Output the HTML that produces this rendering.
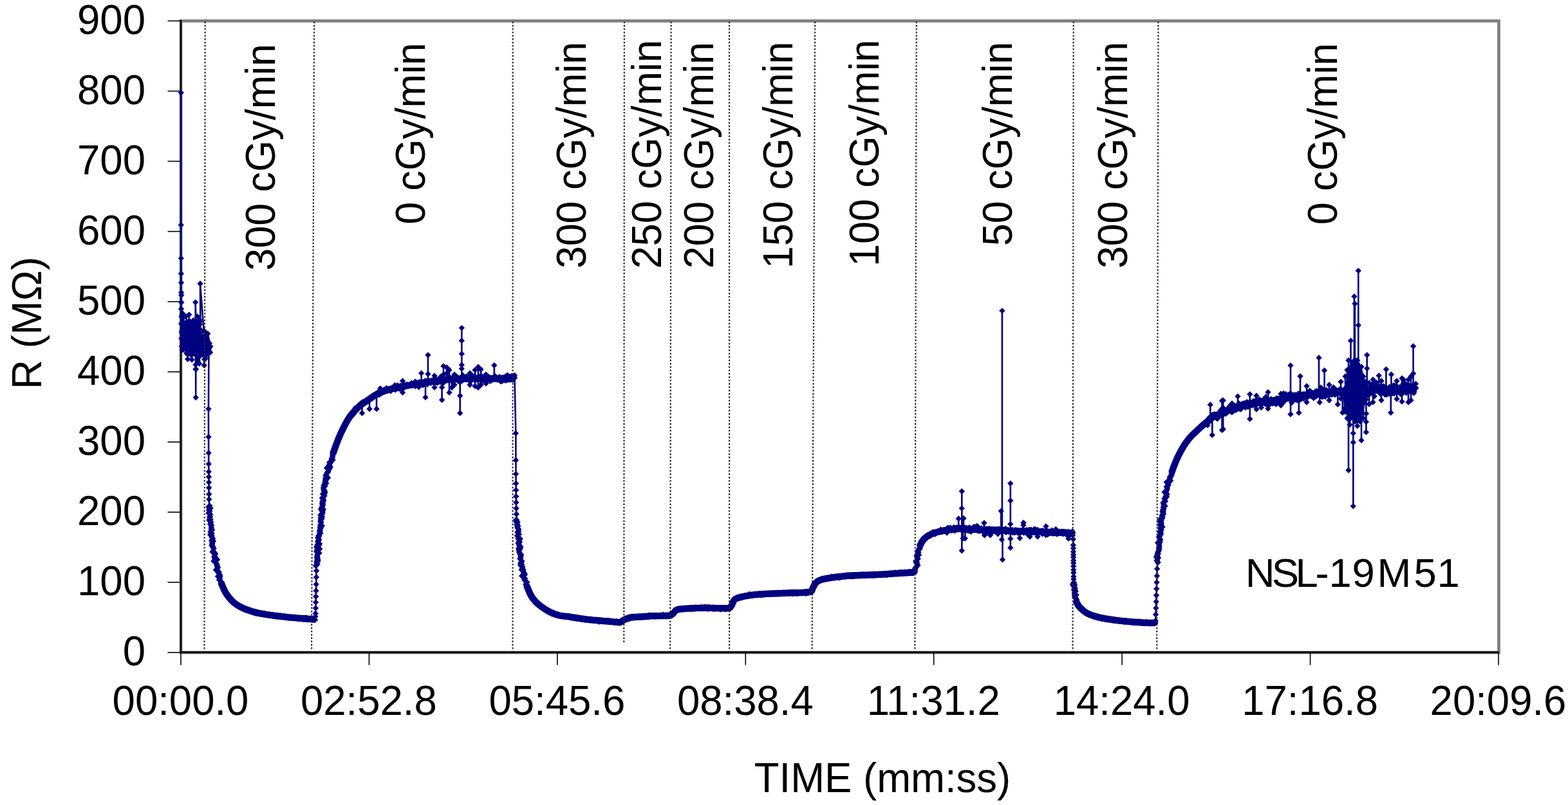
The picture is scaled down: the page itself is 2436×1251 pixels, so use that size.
<!DOCTYPE html><html><head><meta charset="utf-8"><title>R vs TIME</title>
<style>html,body{margin:0;padding:0;background:#fff;overflow:hidden;}svg{display:block;}text{font-family:"Liberation Sans", Arial, sans-serif;fill:#000;}</style></head><body>
<svg width="2436" height="1251" viewBox="0 0 2436 1251">
<defs><marker id="d" viewBox="-6 -6 12 12" markerWidth="12" markerHeight="12" markerUnits="userSpaceOnUse" refX="0" refY="0" overflow="visible"><path d="M0,-4.7L4.7,0L0,4.7L-4.7,0Z" fill="#000080"/></marker></defs>
<rect width="2436" height="1251" fill="#fff"/>
<rect x="281" y="32.5" width="2047.5" height="981.5" fill="none" stroke="#808080" stroke-width="4.8"/>
<g stroke="#000" fill="none">
<line x1="281" y1="31" x2="281" y2="1014" stroke-width="2.4"/>
<line x1="279.8" y1="1013.8" x2="2329" y2="1013.8" stroke-width="3"/>
<line x1="260.5" y1="1014.00" x2="281" y2="1014.00" stroke-width="1.6"/>
<line x1="260.5" y1="904.94" x2="281" y2="904.94" stroke-width="1.6"/>
<line x1="260.5" y1="795.89" x2="281" y2="795.89" stroke-width="1.6"/>
<line x1="260.5" y1="686.83" x2="281" y2="686.83" stroke-width="1.6"/>
<line x1="260.5" y1="577.78" x2="281" y2="577.78" stroke-width="1.6"/>
<line x1="260.5" y1="468.72" x2="281" y2="468.72" stroke-width="1.6"/>
<line x1="260.5" y1="359.67" x2="281" y2="359.67" stroke-width="1.6"/>
<line x1="260.5" y1="250.61" x2="281" y2="250.61" stroke-width="1.6"/>
<line x1="260.5" y1="141.56" x2="281" y2="141.56" stroke-width="1.6"/>
<line x1="260.5" y1="32.50" x2="281" y2="32.50" stroke-width="1.6"/>
<line x1="281.00" y1="1014" x2="281.00" y2="1033.5" stroke-width="1.6"/>
<line x1="573.43" y1="1014" x2="573.43" y2="1033.5" stroke-width="1.6"/>
<line x1="865.86" y1="1014" x2="865.86" y2="1033.5" stroke-width="1.6"/>
<line x1="1158.29" y1="1014" x2="1158.29" y2="1033.5" stroke-width="1.6"/>
<line x1="1450.71" y1="1014" x2="1450.71" y2="1033.5" stroke-width="1.6"/>
<line x1="1743.14" y1="1014" x2="1743.14" y2="1033.5" stroke-width="1.6"/>
<line x1="2035.57" y1="1014" x2="2035.57" y2="1033.5" stroke-width="1.6"/>
<line x1="2328.00" y1="1014" x2="2328.00" y2="1033.5" stroke-width="1.6"/>
</g>
<polyline points="343.3,904.8 344,906.7 344.8,908.7 345.6,910.6 346.4,912.6 347.3,914.5 348.2,916.5 349.2,918.4 350.2,920.4 351.3,922.3 352.6,924.2 353.9,926.1 355.4,928 357,929.9 358.7,931.9 360.5,933.8 362.5,935.7 364.5,937.4 366.5,938.9 368.5,940.2 370.5,941.4 372.5,942.5 374.5,943.6 376.5,944.5 378.5,945.4 380.5,946.3 382.5,947.1 384.5,947.8 386.5,948.5 388.5,949.2 390.5,949.9 392.5,950.5 394.5,951.1 396.5,951.6 398.5,952.1 400.5,952.6 402.5,953 404.5,953.4 406.5,953.7 408.5,954.1 410.5,954.4 412.5,954.8 414.5,955.1 416.5,955.4 418.5,955.7 420.5,956 422.5,956.2 424.5,956.5 426.5,956.8 428.5,957 430.5,957.3 432.5,957.5 434.5,957.7 436.5,958 438.5,958.2 440.5,958.4 442.5,958.6 444.5,958.9 446.5,959.1 448.5,959.3 450.5,959.5 452.5,959.7 454.5,959.8 456.5,960 458.5,960.2 460.5,960.4 462.5,960.6 464.5,960.7 466.5,960.9 468.5,961.1 470.5,961.2 472.5,961.4 474.5,961.5 476.5,961.7 478.5,961.8 480.5,961.9 482.5,962.1 484.5,962.2 486.5,962.3 488.5,962.4 489.5,962.5" fill="none" stroke="#000080" stroke-width="10.4" stroke-linejoin="round" stroke-linecap="butt"/>
<polyline points="517,706 517.7,704 518.4,702 519.1,700 519.8,698 520.5,696 521.2,694 521.9,692 522.7,690.1 523.4,688.1 524.2,686.1 525,684.1 525.7,682.1 526.6,680.2 527.4,678.2 528.2,676.2 529.1,674.2 530,672.3 531,670.3 531.9,668.3 532.9,666.3 533.9,664.3 534.9,662.4 535.9,660.4 536.9,658.4 538,656.4 539.1,654.5 540.3,652.5 541.5,650.6 542.7,648.6 544.1,646.7 545.6,644.8 547.1,642.8 548.8,640.9 550.5,639 552.4,637 554.3,635.1 556.3,633.2 558.3,631.4 560.3,629.7 562.3,628.2 564.3,626.7 566.3,625.3 568.3,624 570.3,622.7 572.3,621.3 574.3,619.9 576.3,618.5 578.3,617.1 580.3,615.7 582.3,614.4 584.3,613.2 586.3,612.1 588.3,611.2 590.3,610.4 592.3,609.6 594.3,608.8 596.3,608.1 598.3,607.4 600.3,606.8 602.3,606.1 604.3,605.5 606.3,604.9 608.3,604.3 610.3,603.8 612.3,603.3 614.3,602.9 616.3,602.5 618.3,602.1 620.3,601.7 622.3,601.3 624.3,600.9 626.3,600.5 628.3,600.1 630.3,599.8 632.3,599.4 634.3,599 636.3,598.6 638.3,598.2 640.3,597.7 642.3,597.3 644.3,596.9 646.3,596.5 648.3,596.1 650.3,595.8 652.3,595.4 654.3,595.1 656.3,594.8 658.3,594.5 660.3,594.2 662.3,594 664.3,593.8 666.3,593.6 668.3,593.4 670.3,593.2 672.3,593 674.3,592.8 676.3,592.6 678.3,592.3 680.3,592 682.3,591.8 684.3,591.5 686.3,591.2 688.3,590.9 690.3,590.7 692.3,590.4 694.3,590.2 696.3,589.9 698.3,589.7 700.3,589.5 702.3,589.4 704.3,589.3 706.3,589.2 708.3,589.1 710.3,589 712.3,588.9 714.3,588.9 716.3,588.8 718.3,588.7 720.3,588.6 722.3,588.5 724.3,588.4 726.3,588.4 728.3,588.4 730.3,588.3 732.3,588.3 734.3,588.3 736.3,588.3 738.3,588.3 740.3,588.2 742.3,588.2 744.3,588.2 746.3,588.2 748.3,588.2 750.3,588.2 752.3,588.2 754.3,588.2 756.3,588.2 758.3,588.3 760.3,588.3 762.3,588.3 764.3,588.4 766.3,588.4 768.3,588.5 770.3,588.5 772.3,588.6 774.3,588.6 776.3,588.6 778.3,588.6 780.3,588.6 782.3,588.5 784.3,588.5 786.3,588.4 788.3,588.3 790.3,588.2 792.3,588 794.3,587.9 796.3,587.7 798.3,587.6 799.5,587.5" fill="none" stroke="#000080" stroke-width="10.4" stroke-linejoin="round" stroke-linecap="butt"/>
<polyline points="818.1,909.3 818.7,911.2 819.5,913.1 820.3,915.1 821.1,917.1 821.9,919 822.8,921 823.7,922.9 824.7,924.9 825.8,926.8 826.9,928.7 828.3,930.5 829.8,932.4 831.5,934.3 833.3,936.2 835.3,938.1 837.3,939.8 839.3,941.4 841.3,942.9 843.3,944.3 845.3,945.7 847.3,947 849.3,948.3 851.3,949.4 853.3,950.5 855.3,951.5 857.3,952.4 859.3,953.2 861.3,954 863.3,954.8 865.3,955.4 867.3,956 869.3,956.5 871.3,956.9 873.3,957.1 875.3,957.4 877.3,957.6 879.3,957.8 881.3,958.1 883.3,958.4 885.3,958.7 887.3,959 889.3,959.3 891.3,959.7 893.3,960 895.3,960.3 897.3,960.6 899.3,960.9 901.3,961.2 903.3,961.5 905.3,961.7 907.3,962 909.3,962.3 911.3,962.5 913.3,962.8 915.3,963 917.3,963.2 919.3,963.4 921.3,963.6 923.3,963.8 925.3,964 927.3,964.2 929.3,964.3 931.3,964.5 933.3,964.7 935.3,964.8 937.3,965 939.3,965.1 941.3,965.3 943.3,965.5 945.3,965.7 947.3,965.8 949.3,966 951.3,966.2 953.3,966.4 955.3,966.6 957.3,966.7 959.3,967 961.3,967.1 963.3,967.1 965.3,966.2 967.3,964.7 969.3,963.3 971.3,962.4 973.3,961.6 975.3,960.8 977.3,960.1 979.3,959.7 981.3,959.5 983.3,959.3 985.3,959.1 987.3,959 989.3,958.9 991.3,958.8 993.3,958.7 995.3,958.6 997.3,958.5 999.3,958.3 1001.3,958.2 1003.3,958 1005.3,957.8 1007.3,957.6 1009.3,957.4 1011.3,957.3 1013.3,957.2 1015.3,957.2 1017.3,957.2 1019.3,957.1 1021.3,957.1 1023.3,957.1 1025.3,957.1 1027.3,957 1029.3,957 1031.3,957 1033.3,956.9 1035.3,956.9 1037.3,956.8 1039.3,956.7 1041.3,956.5 1043.3,955.4 1045.3,953.9 1047.3,951.5 1048.8,949.6 1050.5,948.1 1052.5,947.4 1054.5,946.8 1056.5,946.5 1058.5,946.3 1060.5,946.2 1062.5,946 1064.5,945.8 1066.5,945.7 1068.5,945.6 1070.5,945.5 1072.5,945.3 1074.5,945.2 1076.5,945.2 1078.5,945.1 1080.5,945 1082.5,945 1084.5,944.9 1086.5,944.9 1088.5,944.8 1090.5,944.8 1092.5,944.8 1094.5,944.8 1096.5,944.8 1098.5,944.8 1100.5,944.8 1102.5,944.9 1104.5,944.9 1106.5,945 1108.5,945 1110.5,945 1112.5,945.1 1114.5,945.1 1116.5,945.2 1118.5,945.2 1120.5,945.3 1122.5,945.3 1124.5,945.3 1126.5,945.4 1128.5,945.4 1130.5,945.4 1132.5,945.4 1134.5,943.9 1136,941.7 1137.2,939.7 1138.2,937.3 1139.1,935.3 1139.9,933.5 1141,932 1143,930.6 1145,929.7 1147,929 1149,928.4 1151,927.9 1153,927.4 1155,927 1157,926.5 1159,926.1 1161,925.8 1163,925.4 1165,925.1 1167,924.8 1169,924.6 1171,924.4 1173,924.2 1175,924 1177,923.8 1179,923.7 1181,923.5 1183,923.4 1185,923.3 1187,923.1 1189,923 1191,922.9 1193,922.8 1195,922.7 1197,922.6 1199,922.6 1201,922.5 1203,922.4 1205,922.3 1207,922.2 1209,922.2 1211,922.1 1213,922 1215,921.9 1217,921.8 1219,921.7 1221,921.6 1223,921.6 1225,921.5 1227,921.5 1229,921.4 1231,921.4 1233,921.3 1235,921.3 1237,921.2 1239,921.2 1241,921.1 1243,921.1 1245,921 1247,920.9 1249,920.8 1251,920.7 1253,920.5 1255,920.3 1257,920.1 1259,919.9 1261,918.5 1261.9,916.1 1262.7,914.2 1263.6,912.4 1264.5,910.4 1265.4,908.5 1266.6,906.9 1268.2,905.1 1270.2,903.4 1272.2,902.3 1274.2,901.5 1276.2,900.8 1278.2,900.3 1280.2,899.8 1282.2,899.3 1284.2,899 1286.2,898.6 1288.2,898.3 1290.2,898 1292.2,897.6 1294.2,897.3 1296.2,897.1 1298.2,896.8 1300.2,896.5 1302.2,896.3 1304.2,896 1306.2,895.8 1308.2,895.6 1310.2,895.4 1312.2,895.2 1314.2,895.1 1316.2,894.9 1318.2,894.8 1320.2,894.7 1322.2,894.5 1324.2,894.4 1326.2,894.3 1328.2,894.3 1330.2,894.2 1332.2,894.1 1334.2,894 1336.2,894 1338.2,893.9 1340.2,893.8 1342.2,893.8 1344.2,893.7 1346.2,893.6 1348.2,893.6 1350.2,893.5 1352.2,893.4 1354.2,893.4 1356.2,893.3 1358.2,893.2 1360.2,893.1 1362.2,893 1364.2,892.9 1366.2,892.8 1368.2,892.7 1370.2,892.6 1372.2,892.5 1374.2,892.3 1376.2,892.2 1378.2,892.1 1380.2,891.9 1382.2,891.8 1384.2,891.7 1386.2,891.5 1388.2,891.4 1390.2,891.3 1392.2,891.1 1394.2,891 1396.2,890.9 1398.2,890.7 1400.2,890.6 1402.2,890.5 1404.2,890.3 1406.2,890.2 1408.2,890.1 1410.2,890 1412.2,889.9 1414.2,889.8 1416.2,889.7 1418.2,889.6 1420.2,888.6 1421.8,885.6" fill="none" stroke="#000080" stroke-width="10.4" stroke-linejoin="round" stroke-linecap="butt"/>
<polyline points="1428.7,849.6 1429.4,847.7 1430.3,845.9 1431.3,843.9 1432.3,842.1 1433.5,840.2 1434.9,838.4 1436.6,836.6 1438.6,834.9 1440.6,833.4 1442.6,832.1 1444.6,831.1 1446.6,830.1 1448.6,829.3 1450.6,828.6 1452.6,827.9 1454.6,827.3 1456.6,826.8 1458.6,826.2 1460.6,825.8 1462.6,825.3 1464.6,824.9 1466.6,824.4 1468.6,824.1 1470.6,823.7 1472.6,823.4 1474.6,823.1 1476.6,822.8 1478.6,822.5 1480.6,822.3 1482.6,822 1484.6,821.8 1486.6,821.6 1488.6,821.5 1490.6,821.5 1492.6,821.5 1494.6,821.6 1496.6,821.6 1498.6,821.7 1500.6,821.8 1502.6,821.9 1504.6,822 1506.6,822.2 1508.6,822.3 1510.6,822.4 1512.6,822.5 1514.6,822.6 1516.6,822.7 1518.6,822.8 1520.6,822.9 1522.6,823 1524.6,823 1526.6,823.1 1528.6,823.2 1530.6,823.2 1532.6,823.3 1534.6,823.3 1536.6,823.4 1538.6,823.5 1540.6,823.5 1542.6,823.6 1544.6,823.6 1546.6,823.7 1548.6,823.8 1550.6,823.9 1552.6,823.9 1554.6,824 1556.6,824.1 1558.6,824.2 1560.6,824.3 1562.6,824.4 1564.6,824.5 1566.6,824.6 1568.6,824.7 1570.6,824.8 1572.6,824.9 1574.6,825 1576.6,825.1 1578.6,825.2 1580.6,825.3 1582.6,825.4 1584.6,825.5 1586.6,825.6 1588.6,825.7 1590.6,825.8 1592.6,825.8 1594.6,825.9 1596.6,826 1598.6,826.1 1600.6,826.1 1602.6,826.2 1604.6,826.3 1606.6,826.3 1608.6,826.4 1610.6,826.4 1612.6,826.5 1614.6,826.5 1616.6,826.6 1618.6,826.6 1620.6,826.7 1622.6,826.7 1624.6,826.8 1626.6,826.8 1628.6,826.9 1630.6,826.9 1632.6,827 1634.6,827.1 1636.6,827.1 1638.6,827.2 1640.6,827.3 1642.6,827.3 1644.6,827.4 1646.6,827.5 1648.6,827.6 1650.6,827.7 1652.6,827.8 1654.6,827.9 1656.6,828.1 1658.6,828.2 1660.6,828.3 1662.6,828.5 1664.6,828.7 1666.6,829 1667,829" fill="none" stroke="#000080" stroke-width="10.4" stroke-linejoin="round" stroke-linecap="butt"/>
<polyline points="1671.6,933.5 1672.3,935.3 1673.1,937.2 1674.1,939 1675.2,940.8 1676.6,942.6 1678.3,944.5 1680.2,946.4 1682.2,948.2 1684.2,949.8 1686.2,951.3 1688.2,952.6 1690.2,953.7 1692.2,954.6 1694.2,955.4 1696.2,956.1 1698.2,956.8 1700.2,957.4 1702.2,958 1704.2,958.6 1706.2,959.1 1708.2,959.6 1710.2,960 1712.2,960.4 1714.2,960.8 1716.2,961.2 1718.2,961.6 1720.2,961.9 1722.2,962.3 1724.2,962.6 1726.2,962.9 1728.2,963.2 1730.2,963.5 1732.2,963.7 1734.2,964 1736.2,964.2 1738.2,964.5 1740.2,964.7 1742.2,964.9 1744.2,965.1 1746.2,965.3 1748.2,965.5 1750.2,965.7 1752.2,965.8 1754.2,966 1756.2,966.1 1758.2,966.3 1760.2,966.5 1762.2,966.6 1764.2,966.8 1766.2,966.9 1768.2,967.1 1770.2,967.2 1772.2,967.3 1774.2,967.5 1776.2,967.6 1778.2,967.7 1780.2,967.8 1782.2,967.8 1784.2,967.9 1786.2,968 1788.2,968 1790.2,968 1792.2,968 1794.2,968 1795,968" fill="none" stroke="#000080" stroke-width="10.4" stroke-linejoin="round" stroke-linecap="butt"/>
<polyline points="1820.1,734.7 1820.8,732.7 1821.5,730.7 1822.2,728.7 1822.9,726.8 1823.7,724.8 1824.5,722.8 1825.2,720.8 1826,718.9 1826.8,716.9 1827.7,714.9 1828.5,712.9 1829.4,711 1830.3,709 1831.3,707 1832.3,705.1 1833.3,703.1 1834.4,701.2 1835.5,699.2 1836.6,697.2 1837.8,695.2 1839,693.3 1840.2,691.3 1841.5,689.4 1842.9,687.4 1844.3,685.4 1845.8,683.5 1847.3,681.6 1849,679.6 1850.8,677.7 1852.7,675.7 1854.7,673.8 1856.7,671.9 1858.7,670.1 1860.7,668.2 1862.7,666.4 1864.7,664.5 1866.7,662.7 1868.7,660.9 1870.7,659.1 1872.7,657.4 1874.7,655.8 1876.7,654.2 1878.7,652.5 1880.7,650.9 1882.7,649.4 1884.7,648.1 1886.7,647 1888.7,646 1890.7,645.1 1892.7,644.4 1894.7,643.7 1896.7,642.9 1898.7,642.1 1900.7,641.3 1902.7,640.3 1904.7,639.3 1906.7,638.3 1908.7,637.2 1910.7,636.3 1912.7,635.5 1914.7,634.8 1916.7,634.2 1918.7,633.6 1920.7,633 1922.7,632.5 1924.7,632 1926.7,631.6 1928.7,631.1 1930.7,630.7 1932.7,630.3 1934.7,629.9 1936.7,629.5 1938.7,629.1 1940.7,628.7 1942.7,628.3 1944.7,628 1946.7,627.6 1948.7,627.2 1950.7,626.8 1952.7,626.5 1954.7,626.1 1956.7,625.8 1958.7,625.4 1960.7,625.1 1962.7,624.7 1964.7,624.4 1966.7,624.1 1968.7,623.8 1970.7,623.5 1972.7,623.1 1974.7,622.8 1976.7,622.5 1978.7,622.2 1980.7,621.9 1982.7,621.6 1984.7,621.3 1986.7,621 1988.7,620.7 1990.7,620.4 1992.7,620.1 1994.7,619.8 1996.7,619.5 1998.7,619.2 2000.7,618.9 2002.7,618.6 2004.7,618.3 2006.7,618 2008.7,617.7 2010.7,617.4 2012.7,617.1 2014.7,616.8 2016.7,616.5 2018.7,616.1 2020.7,615.8 2022.7,615.5 2024.7,615.2 2026.7,614.9 2028.7,614.6 2030.7,614.2 2032.7,613.9 2034.7,613.7 2036.7,613.4 2038.7,613.1 2040.7,612.8 2042.7,612.6 2044.7,612.4 2046.7,612.1 2048.7,611.9 2050.7,611.7 2052.7,611.4 2054.7,611.2 2056.7,611 2058.7,610.8 2060.7,610.6 2062.7,610.4 2064.7,610.2 2066.7,610.1 2068.7,609.9 2070.7,609.7 2072.7,609.6 2074.7,609.4 2076.7,609.3 2078.7,609.2 2080.7,609.1 2082.7,609 2084.7,608.9 2086.7,608.8 2088.7,608.7 2090.7,608.6 2092.7,608.5 2094.7,608.4 2096.7,608.3 2098.7,608.2 2100.7,608.1 2102.7,608.1 2104.7,608 2106.7,607.9 2108.7,607.8 2110.7,607.7 2112.7,607.6 2114.7,607.5 2116.7,607.4 2118.7,607.3 2120.7,607.2 2122.7,607.1 2124.7,607 2126.7,606.9 2128.7,606.8 2130.7,606.7 2132.7,606.6 2134.7,606.5 2136.7,606.4 2138.7,606.3 2140.7,606.2 2142.7,606.1 2144.7,606 2146.7,605.9 2148.7,605.8 2150.7,605.7 2152.7,605.6 2154.7,605.5 2156.7,605.4 2158.7,605.3 2160.7,605.2 2162.7,605.1 2164.7,605 2166.7,604.9 2168.7,604.8 2170.7,604.6 2172.7,604.5 2174.7,604.4 2176.7,604.3 2178.7,604.1 2180.7,604 2182.7,603.8 2184.7,603.7 2186.7,603.5 2188.7,603.4 2190.7,603.2 2192.7,603.1 2194.7,602.9 2196.7,602.8 2198.7,602.6 2199.7,602.5" fill="none" stroke="#000080" stroke-width="10.4" stroke-linejoin="round" stroke-linecap="butt"/>
<polyline points="281.2,144 281.2,349.6 281.3,401.4 281.4,425.2 281.5,439.2 281.6,454.6 281.7,458.8 281.8,470 281.6,480 282,492 281.5,503 282.2,515 281.8,526 282.5,538 283.6,543.8 283.3,489.2 282.6,518 283,491.2 283.7,486.9 283,539.5 284.4,505.4 284.8,523 285.6,492.4 285.6,524 286.5,532.8 285.6,542.6 286.5,518 286.8,508.2 287,503.7 288.1,542 288.4,521.4 289.1,502.1 289.1,522.1 290.3,535.9 289.6,549 290.6,499.9 290.1,517.7 290.8,549.8 291.8,517.5 291.7,507.2 288.5,491.6 293.7,489 291.6,558.1 293,524.5 293.1,501.2 292.5,547.2 294.1,516 294.3,503.2 295,499.4 294.9,525.5 295.9,541.7 296.1,501.1 296.4,551.2 297.2,545.8 296.8,502 298.1,514.4 296.8,527.3 298.4,509.5 297.9,512.2 298.1,559 300.1,524.7 299.5,547.1 300.2,497.9 301.7,510.4 300.6,546.9 302.2,540.8 301.3,549.7 302.1,501.1 302.1,500 303.1,549.8 303.2,547.7 303.4,516.4 304,566.7 305.3,507.6 306.2,493.3 305,538.5 306.5,527.8 305.6,536.7 303.6,469.8 304.1,573.7 304.2,617.7 304.2,573.6 306.9,492 306.7,532.6 307.4,514.6 307.7,516.9 307.8,514.1 307.2,560.9 309.4,496.4 309.6,565 310.5,544.6 310.7,553 310.1,504.2 310.6,499.8 311,547.7 311.9,550.9 310.9,553 312.6,515.5 313.2,537.6 312.9,544.4 314.2,527.5 315.4,534.4 314.7,531.4 315.2,537.1 315.4,548.8 314.8,530.1 316.8,523 316.6,543.2 317.3,525.8 317.5,553.4 317.8,558.5 318,532.3 311,440.7 311.4,512.4 318.7,534.1 319.2,557.1 319.8,551.4 319.3,552.9 319.8,543.7 320.2,543.3 320.4,548.9 321.3,541.1 321.7,528.2 323.2,537.3 322.8,544.9 322,539.5 323.9,532.3 323.9,539.6 324.1,541.7 324.7,542 325.3,533.3 317.6,514.5 317.2,567.8 322.8,518.6 327,538.4 326.5,547.7 324.4,545 323.9,635.5 324,679 324.1,704 324.2,721 324.3,733 324.4,741 324.5,749.6 324.6,758 324.7,768 324.8,776 325,786.5 325.9,785.9 323.9,787.7 327.1,789.7 324.7,791.6 324.9,792.9 325.6,793.9 325.8,794.1 324.9,796.3 324.1,797.6 326.8,799.4 326,802.4 325.8,803.6 326.4,803.2 325.9,806.1 327.1,807.5 324.9,808.3 326.4,810.2 327.9,811.6 326.5,814.3 328.1,815.2 328.4,816.7 328.1,817.5 328.4,820.5 328.3,820.4 328.2,823 329.6,823.4 328.6,824.4 326.9,826.7 328.7,828.9 329.1,829 326.5,830.9 329.1,832.2 329.1,834.5 329.6,835.6 330.6,836.9 329.8,838.6 328.5,840.3 331.5,841.1 329.7,843.2 329.7,844.6 329.7,846.1 328.9,847.5 330.3,849.7 330.9,849.4 331.5,851.6 332,852.6 330.4,857 331.7,856.5 330.3,857.9 333.1,858.5 334.7,860.7 333.4,861.8 332.6,865.4 333.7,864.6 335,866.6 333.5,868.2 337.6,869.7 331.9,871.9 334.4,872.5 335.5,874.5 337,876.7 336.5,877.6 337,878.5 337.6,880.8 338.7,881.4 337.6,883.2 337.4,884.1 335.3,885.7 339.3,888.2 340.2,888.9 339.8,890.8 339.5,890.5 341.9,893.8 342,896.1 338.4,895.8 341.3,898.3 341.5,900 340.4,901 342,902.6 343.5,904 343.5,905.2 344,906.9 344.6,908.1 345.2,910.1 345.8,911.4 346.4,912.2 347,913.5 347.6,916.2 348.2,916.3 348.8,918.2 349.4,919 350,919.5 350.6,920.5 351.2,922 351.8,923.1 352.4,924.2 353,924 353.6,925.3 354.2,926.4 354.8,928.2 355.4,926.6 356,929 356.6,929.1 357.2,930.4 357.8,930.6 358.4,931.8 359,933.1 359.6,933 360.2,933.7 360.8,934.3 361.4,934.2 362,935.5 362.6,935.6 363.2,935.8 363.8,936.7 364.4,937.1 365,938.2 365.6,938.2 366.2,938.3 366.8,939.9 367.4,940 368,940.6 368.6,940.6 369.2,940.5 369.8,940.7 370.4,941.2 371,942.2 371.6,942.1 372.2,941.5 372.8,942.6 373.4,942.1 374,943.4 374.6,942.9 375.2,943.1 375.8,944.3 376.4,944.4 377,943.8 377.6,945.5 378.2,946.6 378.8,944.7 379.4,946.9 380,945.6 380.6,946 381.2,946.4 381.8,945.9 382.4,947.8 383,947.5 383.6,947 384.2,947.5 384.8,947 385.4,947.9 386,948.9 386.6,947.5 387.2,948.5 387.8,949.1 388.4,949.8 389,950.2 389.6,949.3 390.2,949.3 390.8,950.2 391.4,949.9 392,950.2 392.6,951.2 393.2,951.7 393.8,951 394.4,950.9 395,951.6 395.6,950.2 396.2,951.5 396.8,951 397.4,953.3 398,952.4 398.6,952.2 399.2,952.1 399.8,950.9 400.4,953 401,953.6 401.6,952.3 402.2,953.3 402.8,953.5 403.4,952.2 404,953.8 404.6,954.2 405.2,953.6 405.8,953.6 406.4,954.2 407,952.9 407.6,954 408.2,954.7 408.8,953.4 409.4,954.8 410,954.1 410.6,953.2 411.2,954.5 411.8,954.1 412.4,954.9 413,954.1 413.6,955.6 414.2,954.6 414.8,955.3 415.4,954.9 416,955.1 416.6,956.1 417.2,955.6 417.8,955.3 418.4,954.9 419,956.4 419.6,956.3 420.2,955.7 420.8,956.1 421.4,955.5 422,955.6 422.6,955.7 423.2,956.5 423.8,956.6 424.4,956 425,957 425.6,957.1 426.2,956.8 426.8,957.4 427.4,956.7 428,956.9 428.6,957.3 429.2,957.1 429.8,957.6 430.4,956.5 431,958.2 431.6,956.9 432.2,957.4 432.8,956.7 433.4,958 434,958.4 434.6,958.4 435.2,958.3 435.8,957 436.4,957.5 437,957.7 437.6,957.5 438.2,958.8 438.8,958.3 439.4,958.3 440,958.7 440.6,957.9 441.2,958 441.8,958 442.4,958.9 443,958.9 443.6,959.1 444.2,959.5 444.8,958.1 445.4,958.6 446,959.1 446.6,958.3 447.2,958.8 447.8,959.8 448.4,959.9 449,960 449.6,959.4 450.2,959.3 450.8,960.1 451.4,959.3 452,959.8 452.6,960.5 453.2,959.5 453.8,959.4 454.4,959.8 455,960.3 455.6,960.2 456.2,960.1 456.8,960.4 457.4,959.2 458,959.7 458.6,960.3 459.2,959.7 459.8,959.5 460.4,959.7 461,959.9 461.6,960.4 462.2,959.9 462.8,960.7 463.4,961.7 464,960.6 464.6,961.5 465.2,961 465.8,960.2 466.4,960.7 467,960.3 467.6,961.4 468.2,960.3 468.8,961.9 469.4,961.5 470,960 470.6,961.7 471.2,962.2 471.8,960.8 472.4,961.9 473,960.3 473.6,961.6 474.2,960.5 474.8,961.8 475.4,960.5 476,960 476.6,961.9 477.2,963.1 477.8,961.4 478.4,962.3 479,961.9 479.6,961.7 480.2,962.3 480.8,962.9 481.4,961.3 482,962.4 482.6,962.3 483.2,961.3 483.8,963.1 484.4,963.4 485,961.7 485.6,963.3 486.2,962.3 486.8,962.2 487.4,963.3 488,962.5 488.6,962.6 489.2,963.4 489.5,963.3 490,958 490.2,953.3 490.4,945 490.6,936 490.8,927 491,918 491.2,908 491.4,897 491.6,887 491.8,878.6 490.3,879.1 493.2,876.2 492.2,875.1 492,873.5 494.1,871.8 492.3,870.5 493.9,869.5 492.7,867.3 493.4,866.5 492.5,865.4 492.7,863.8 493.1,862.4 493.4,860.2 496,859.4 494,857.4 491.5,857 492.6,853.6 496.8,853.1 495.6,851.9 491.7,850 495.6,847.3 493.2,847.3 493.1,846.4 496.6,844.9 493.9,842.2 494,841.7 494.1,840.2 495.7,838.7 494.7,836.5 493.8,835.4 495.6,833.6 494.8,832.6 496,831.8 498,828.5 496.4,828.7 496.8,825.7 496.6,824.3 497.5,824.2 497.6,821.8 498.3,820.2 497.1,819.2 500.3,817.3 497.6,816 498,815.4 498.9,812 497.7,810.7 498.3,809.9 498,807.7 500,806.3 498.2,804.8 498.4,804.9 500.6,803.1 497.8,800.6 500.2,799.5 499.7,798.3 501.3,797 501.5,794.1 499.5,793.4 502.3,791.6 498.5,790.9 500.5,788.8 500.2,787.2 501.9,784.9 500.7,783.7 500.5,782.4 501.9,781.8 500.6,779.4 502.9,778 502.2,776.9 501.9,775.1 500.3,774 501.6,773.3 504.2,770.5 502.9,769.5 501.4,767.6 504.6,766.5 505,764.4 502.9,762.8 503.9,762.3 503.3,760.9 502.3,758.4 503.4,756.8 505.1,755.2 502.9,754.2 504.4,754.6 506.9,750.9 504.5,750.8 505,747.8 506,747.8 506.6,745.2 505.4,744.9 505.7,742.5 509.5,742.5 507.7,740.3 505.8,738.7 507,737 508,734.5 509.7,733.6 509.7,732.8 510.5,730.3 511.5,729.3 507.5,727.3 513.3,726.1 511.1,725.2 512.2,724 511.5,722.2 512.7,720.5 511.7,718.6 514.4,717.6 514.3,716.4 517.1,714.8 515.9,713.2 515.2,712.7 516.8,710.2 516.5,709.6 516.6,707.3 517.1,705.7 517.6,703.4 518.2,703.3 518.7,701 519.2,698.6 519.7,698.1 520.3,695.6 520.8,694.6 521.3,693.7 521.9,691.6 522.4,691.3 523,688.3 523.5,687.9 524.1,686.6 524.7,685.6 525.3,683.8 525.9,681.9 526.5,680.4 527.1,678.8 527.7,678.2 528.3,675.7 528.9,675.1 529.5,673.4 530.1,672.3 530.7,670.7 531.3,670.9 531.9,668 532.5,667.3 533.1,666.1 533.7,665.1 534.3,663.8 534.9,662.6 535.5,661.7 536.1,659.1 536.7,658.9 537.3,657 537.9,656.8 538.5,654.9 539.1,654 539.7,653.5 540.3,653.3 540.9,651.9 541.5,650.7 542.1,650.5 542.7,648.1 543.3,646.6 543.9,646.7 544.5,646 545.1,647 545.7,647.4 546.3,642.1 546.9,646.3 547.5,644.4 548.1,642.8 548.7,641.5 549.3,643.5 549.9,639.7 550.5,638.4 551.1,638.5 551.7,635.9 552,637.4 552,634 552,637.4 552.3,637.7 552.9,636.3 553.5,636.3 554.1,635.8 554.7,633.4 555.3,635.9 555.9,632.3 556.5,634.2 557.1,630.4 557.7,632.5 558.3,630.4 558.9,631 559.5,629.6 560.1,627.1 560.7,628 561.3,629.1 561.9,629.3 562.5,626.1 562.5,628 562.5,642 562.5,628 563.1,624.8 563.7,626 564.3,626.5 564.9,625.5 565.5,624.8 566.1,626.6 566.7,626.3 567.3,625.6 567.9,623.1 568.5,624 569.1,623.2 569.7,621.2 570.3,623.8 570.9,622.4 571.5,621.3 572.1,623.3 572.7,622.1 573.3,621.8 573.9,621.8 574,620.2 574,635.5 574,620.2 574.5,620.8 575.1,617.8 575.7,618.5 576.3,619.9 576.9,617.1 577.5,617.7 578.1,617.8 578.7,618.7 579.3,618.1 579.9,617.2 580.5,615.3 581.1,616.4 581.7,615.5 582.3,614.2 582.9,615.8 583.5,614.3 584.1,612.3 584.7,614.6 585,612.8 585,635.5 585,612.8 585.3,612.3 585.9,613.1 586.5,610.1 587.1,611.8 587.7,610.3 588.3,610 588.9,608.5 589.5,613.5 590.1,610.3 590.7,610.5 590.7,610.2 590.7,603.6 590.7,610.2 591.3,611.4 591.9,609.6 592.5,610.2 593.1,607.5 593.7,609.3 594.3,608.3 594.9,609.3 595.5,608.7 596.1,606.4 596.7,605.6 597.3,606.5 597.9,608.5 598.5,607.9 599.1,607.7 599.7,604.3 600.3,603.3 600.9,605.8 601.5,605.9 602.1,605.4 602.7,606.5 603.3,605.6 603.9,604.1 604.5,604.3 605.1,605.4 605.7,605.2 606.3,604.8 606.9,607.7 607.5,604.2 608.1,604.6 608.7,602.9 609.3,603.6 609.9,604.6 610.5,604.5 611.1,603.4 611.7,604 612.3,603.4 612.9,600.8 613.5,598.8 614.1,605.9 614.7,603.9 615.3,602.6 615.9,600.3 616.5,600.8 617.1,604.1 617.7,598.6 618.3,601.7 618.9,603.1 619.5,602.1 620.1,602.7 620.7,601.5 621.3,604.6 621.9,600.1 622.5,599.5 623.1,601.5 623.7,602.9 624.3,600.9 624.9,602.2 625.5,600 625.5,600.7 625.5,592 625.5,600.7 625.5,610 625.5,600.7 626.1,599 626.7,602.3 627.3,602.4 627.9,602.2 628.5,599.5 629.1,598.5 629.7,598.4 630.3,599.5 630.9,600.4 631.5,600.2 632.1,597.5 632.7,599.5 633.3,599.2 633.9,599.2 634.5,598.9 635.1,598.6 635.7,599.5 636.3,598.7 636.9,598.8 637.5,597.4 638.1,598.7 638.7,597.9 639.3,595.2 639.9,598.5 640.5,597.2 641.1,599.4 641.7,597.1 642.3,597.1 642.9,597.6 643.5,597 644.1,596.1 644.7,593.2 645.3,600.4 645.9,593.4 646.5,595.8 647.1,597.6 647.7,597 648.3,597.2 648.9,597.5 649.5,598.4 650.1,596.4 650.7,601.5 651.3,593.6 651.9,596 652.5,594.7 653.1,594.2 653.7,595.8 654.3,598 654.6,595.1 654.6,579.9 654.6,595.1 654.9,593.6 655.5,593.5 656.1,596.3 656.7,595.8 657.3,598.6 657.9,596.6 658.5,595 659.1,593.8 659.7,594.8 660.3,593.9 660.9,591.4 661,594.2 661,617.6 661,594.2 661.5,594.1 662.1,593.7 662.7,593.5 663.3,593 663.9,597.2 664.5,595.1 664.9,593.7 664.9,551.8 664.9,593.7 664.9,581.2 664.9,593.7 665.1,595.6 665.7,592.4 666.3,591.5 666.9,592.9 667.5,593.9 668.1,592.7 668.7,593 669.3,595.2 669.9,593.8 670.5,591.2 671.1,592.3 671.7,591.7 672.3,593.4 672.9,590.6 673.5,592.5 674.1,594.2 674.7,592.8 675,592.7 675,584 675,592.7 675,602 675,592.7 675.3,590.8 675.9,591.4 676.5,592.8 677.1,593.4 677.7,594.1 678.3,592 678.9,589.6 679.5,595 680.1,592.7 680.7,592.8 681.3,592.5 681.9,589.7 682.5,591.1 683.1,592.2 683.7,593.6 684.3,591.6 684.9,585.2 685.5,590.8 686.1,591.9 686.6,591.2 686.6,602 686.6,591.2 686.6,621.5 686.6,591.2 686.7,593.7 687.3,592.5 687.9,596 688.5,593.8 689,590.9 689,569 689,590.9 689,582 689,590.9 689.1,593.5 689.7,592.7 690.3,587.9 690.9,592.3 691.5,591.7 692.1,589.4 692.7,591.5 693.3,591.1 693.9,589.3 694,590.2 694,571 694,590.2 694,580 694,590.2 694.5,589.9 695.1,589.5 695.7,590.4 696.3,589.1 696.9,590.9 697.5,585.9 698,589.7 698,575 698,589.7 698,610 698,589.7 698.1,589.2 698.7,586.3 699.3,588.6 699.9,590.6 700.5,589.6 701.1,589.3 701.7,589.6 702,589.4 702,602.3 702,589.4 702.3,592.5 702.9,587.2 703.5,591.1 704.1,586.3 704.7,588.3 705.3,589.6 705.9,587.5 706,589.2 706,582 706,589.2 706,598 706,589.2 706.5,589.6 707.1,590.6 707.7,586.7 708.3,589 708.9,588.3 709.5,585.2 710.1,588.7 710.7,587.4 711.3,591.7 711.9,587.2 712.5,592.3 713.1,587.9 713.7,592.8 714.3,589.9 714.7,588.8 714.7,642 714.7,588.8 714.7,615 714.7,588.8 714.9,589.7 715.5,590.4 716.1,590.6 716.7,591.6 717.3,592.2 717.3,588.7 717.3,509.6 717.3,588.7 717.3,529.4 717.3,588.7 717.3,549.9 717.3,588.7 717.3,567.1 717.3,588.7 717.3,572.9 717.3,588.7 717.9,588 718.5,586.2 719.1,583.3 719.7,587.8 720.3,590.1 720.9,589.3 721.5,588.8 722.1,587.8 722.7,587.2 723.3,587.9 723.9,589.2 724.5,584.9 725.1,589.9 725.7,585.5 726.3,588.1 726.9,587.1 727.5,587.6 728.1,586.3 728.7,586.1 729.3,587.9 729.9,586.2 730,588.3 730,580 730,588.3 730,598 730,588.3 730.5,593.3 731.1,587.5 731.7,587 732.3,587.2 732.9,586.2 733.5,583.4 734.1,587.8 734.7,588.9 735.3,585.3 735.9,588.3 736.5,585.8 737.1,588.2 737.7,589 738,588.3 738,575 738,588.3 738,600 738,588.3 738.3,589.2 738.9,589.1 739.5,586.8 740.1,590 740.7,587.3 741.3,588.9 741.9,589.6 742.5,587.6 742.9,588.2 742.9,570.3 742.9,588.2 742.9,602.3 742.9,588.2 743.1,585.6 743.7,589.4 744.3,586 744.9,586.4 745.5,586 746.1,589.9 746.7,587.9 747,588.2 747,574 747,588.2 747,598 747,588.2 747.3,583.7 747.9,589.7 748.5,592.3 749.1,591.8 749.7,587 750.3,588.3 750.9,589.2 751.5,590 752.1,588.3 752.7,586 753.3,589.7 753.9,589.4 754.5,585.5 755,588.2 755,582 755,588.2 755,596 755,588.2 755.1,587.5 755.7,588.7 756.3,588.2 756.9,589.3 757.5,589.8 758.1,589.3 758.7,588 759.3,585.6 759.9,589.5 760.5,591.1 761.1,592.2 761.7,588.2 762.3,588.3 762.9,591.2 763.5,591.2 764.1,589 764.7,589.8 765.3,586.9 765.9,589.6 766.5,586.8 767.1,588.1 767.7,588.2 767.8,588.5 767.8,567.8 767.8,588.5 768.3,587.5 768.9,584.2 769.5,586.8 770.1,589.2 770.7,588.4 771.3,587.7 771.9,589.4 772.5,589.9 773.1,590.2 773.7,586.9 774.3,588.6 774.9,587.9 775.5,586.8 776.1,585.6 776.7,588.4 777.3,586.8 777.9,592.9 778.5,588.4 779.1,588.1 779.7,587.8 780.3,592.3 780.9,586.6 781.5,588.2 782.1,587 782.7,588.2 783.3,588.4 783.9,590.6 784.5,585.6 785.1,588.4 785.7,591.6 786.3,587.3 786.9,588 787.5,586.5 788.1,583 788.7,588 789.3,590.5 789.9,587.2 790.5,584.4 791.1,588.6 791.7,588.2 792.3,590 792.9,589.8 793.5,587.4 794.1,588.7 794.7,584.2 795.3,590 795.9,588.1 796.5,589.9 797.1,589.8 797.7,587 798.3,587.3 798.9,585.8 799.5,583.3 799.5,587.2 801.3,673.3 801.4,715.3 801.5,736.6 801.6,751.3 801.7,761.6 801.8,771.5 801.9,780.8 802.1,790 802.3,799 802.6,808 801.4,808.1 802.9,810 802.2,811.4 804.1,811.6 803.3,814.5 803.4,815.4 803.3,817.1 804.9,817.6 803.8,819.4 804.6,821.7 805.8,822.4 805.5,825.3 803.9,827.2 805.3,826 806.4,830.2 805.1,830.6 803.4,832.6 804.8,833.6 804.9,836.4 805.8,837.9 808.3,837.4 806.7,839.4 805.6,842.5 807.4,842.2 805.1,844.4 806.2,845.2 806.4,848 808.7,849.3 808.6,851.2 805.4,852.6 807.7,854.1 806.2,854.8 806.4,855.4 806.4,857.8 807.2,858.8 807.7,861.2 809.7,862.1 809.1,863.5 809,864.5 809,866.7 807.9,867.8 808.7,869.4 810.4,871.7 810.4,871.8 810.4,873.7 808.5,875.2 810.9,877.6 808.6,877.7 809.6,879.6 811.9,881.2 811.1,883.8 813,885.2 810.2,885.6 813,887.8 814.2,890.2 814.8,890.8 813.5,891.1 815.5,893.1 810.6,895 813.4,897 814.2,898.1 815.8,899.3 814.5,900.8 816.4,903 817.1,903.6 818.8,904.8 817.6,906.7 816.7,908.2 818.1,908.8 818.6,911.1 819.2,912.6 819.7,914.7 820.3,915.6 820.9,916.1 821.5,918.5 822.1,920.1 822.7,921.5 823.3,922.4 823.9,922.6 824.5,925.3 825.1,925.2 825.7,927.1 826.3,926.8 826.9,929.1 827.5,929.1 828.1,931 828.7,932.2 829.3,932.6 829.9,931.9 830.5,932.7 831.1,933.5 831.7,935 832.3,935.5 832.9,936 833.5,936.6 834.1,937.4 834.7,938 835.3,939.1 835.9,938.6 836.5,939.3 837.1,938.5 837.7,939.3 838.3,940.2 838.9,940.4 839.5,941.7 840.1,942.6 840.7,942.2 841.3,942.6 841.9,943 842.5,943.8 843.1,943.9 843.7,944.9 844.3,945.2 844.9,945.6 845.5,946.3 846.1,946.3 846.7,946.7 847.3,948.1 847.9,947.4 848.5,948.3 849.1,948.2 849.7,948.2 850.3,948.6 850.9,948.7 851.5,949.6 852.1,949.5 852.7,950 853.3,951.3 853.9,950.8 854.5,951.8 855.1,951.6 855.7,952.2 856.3,951.6 856.9,952.3 857.5,954.1 858.1,953.2 858.7,953.6 859.3,953.4 859.9,954 860.5,953 861.1,953.4 861.7,954.4 862.3,954.9 862.9,954.4 863.5,954.7 864.1,954.8 864.7,955.1 865.3,954.7 865.9,954.8 866.5,955.8 867.1,954.9 867.7,955.6 868.3,955.9 868.9,955.8 869.5,956.7 870.1,956.4 870.7,956.7 871.3,956.3 871.9,956.5 872.5,957.3 873.1,957.3 873.7,956.9 874.3,957.5 874.9,957.4 875.5,957.5 876.1,958.4 876.7,957.3 877.3,957.8 877.9,957.9 878.5,957.6 879.1,957.1 879.7,958.3 880.3,958.1 880.9,958 881.5,958.1 882.1,958.2 882.7,957.7 883.3,958.5 883.9,957.4 884.5,958.5 885.1,957.7 885.7,958.5 886.3,959.3 886.9,958.8 887.5,958.7 888.1,959.4 888.7,959 889.3,959.1 889.9,959.2 890.5,960.4 891.1,960 891.7,960 892.3,959.1 892.9,960.3 893.5,959.2 894.1,960.4 894.7,959.5 895.3,961.4 895.9,959.4 896.5,961.2 897.1,961 897.7,959.6 898.3,960.6 898.9,961.7 899.5,961.6 900.1,960 900.7,960.8 901.3,960.4 901.9,960.6 902.5,960.9 903.1,962.5 903.7,961.6 904.3,961.4 904.9,961.4 905.5,962.1 906.1,962.2 906.7,961.3 907.3,962.8 907.9,961.4 908.5,962 909.1,962.5 909.7,963.3 910.3,962.1 910.9,962.6 911.5,963.3 912.1,962.9 912.7,963.3 913.3,963.3 913.9,962.9 914.5,963.2 915.1,963.5 915.7,963 916.3,964 916.9,961.9 917.5,962.7 918.1,964.1 918.7,963.6 919.3,963 919.9,963.7 920.5,964.2 921.1,963.2 921.7,964.1 922.3,963.6 922.9,963.7 923.5,963.8 924.1,964.5 924.7,963.2 925.3,963.7 925.9,964.4 926.5,963.3 927.1,963.2 927.7,964.5 928.3,964.2 928.9,964.2 929.5,964.4 930.1,963.8 930.7,966.2 931.3,963.9 931.9,964.2 932.5,963.7 933.1,964.3 933.7,965.6 934.3,964.7 934.9,965.1 935.5,964.5 936.1,965.9 936.7,965 937.3,964.2 937.9,965.4 938.5,964.8 939.1,965.5 939.7,965.2 940.3,965.3 940.9,965.3 941.5,964.8 942.1,964.4 942.7,966 943.3,965.4 943.9,965.7 944.5,965.3 945.1,964.4 945.7,964.9 946.3,966.6 946.9,965.3 947.5,965.6 948.1,965 948.7,965.6 949.3,965.8 949.9,965.9 950.5,966 951.1,965.8 951.7,965.9 952.3,966.2 952.9,966.5 953.5,966.3 954.1,967.5 954.7,966.6 955.3,966.6 955.9,966.2 956.5,967.2 957.1,966.1 957.7,965.8 958.3,966.2 958.9,967.2 959.5,966.3 960.1,967.8 960.7,967 961.3,966.2 961.9,967 962.5,968.2 963.1,966.6 963.7,966.2 964.3,967 964.9,967.2 965.5,966.6 966.1,965.4 966.7,965.3 967.3,964.9 967.9,964.9 968.5,965.1 969.1,963.3 969.7,963.9 970.3,962.6 970.9,962.9 971.5,961.7 972.1,961.6 972.7,962 973.3,961 973.9,961.8 974.5,960.7 975.1,960.9 975.7,960.5 976.3,960.2 976.9,960.3 977.5,960.7 978.1,961.8 978.7,959 979.3,959.8 979.9,959.5 980.5,958.9 981.1,959.6 981.7,958.8 982.3,959.3 982.9,960 983.5,958 984.1,959.3 984.7,959.4 985.3,958.5 985.9,959.3 986.5,959.2 987.1,958.7 987.7,959.6 988.3,958.1 988.9,959.2 989.5,958.7 990.1,958.2 990.7,958.7 991.3,958.5 991.9,959.2 992.5,957.8 993.1,958.5 993.7,958.3 994.3,959.5 994.9,957.9 995.5,959.2 996.1,957.4 996.7,958.7 997.3,958.4 997.9,958.6 998.5,957.9 999.1,957.1 999.7,957.3 1000.3,959 1000.9,958.3 1001.5,957.6 1002.1,958.6 1002.7,957.6 1003.3,957.5 1003.9,957.2 1004.5,958.5 1005.1,958.9 1005.7,957.1 1006.3,957.8 1006.9,958.2 1007.5,958.8 1008.1,956 1008.7,957.5 1009.3,957.8 1009.9,956.4 1010.5,957.5 1011.1,957.4 1011.7,957.7 1012.3,956.9 1012.9,957.4 1013.5,956.8 1014.1,957.5 1014.7,957.2 1015.3,956.9 1015.9,956.3 1016.5,958.1 1017.1,957.8 1017.7,957.6 1018.3,956.7 1018.9,956.9 1019.5,958.1 1020.1,957.5 1020.7,956.5 1021.3,957.1 1021.9,957.1 1022.5,956.9 1023.1,956.5 1023.7,957.8 1024.3,957.4 1024.9,956.9 1025.5,956.1 1026.1,956.6 1026.7,957 1027.3,957.5 1027.9,956.8 1028.5,957.6 1029.1,957.1 1029.7,956.5 1030.3,955.3 1030.9,956.2 1031.5,956 1032.1,956.8 1032.7,957.1 1033.3,957.7 1033.9,956.9 1034.5,956.2 1035.1,958.3 1035.7,957 1036.3,956.7 1036.9,956.6 1037.5,956 1038.1,957.1 1038.7,957 1039.3,957.7 1039.9,957.3 1040.5,957.2 1041.1,957.3 1041.7,956.1 1042.3,955.7 1042.9,955.6 1043.5,954.5 1044.1,954.7 1044.7,954.2 1045.3,954.3 1045.9,953.2 1046.5,951.3 1047.1,951.7 1047.7,951.7 1048.3,949 1048.9,948.9 1049.5,948.8 1050.1,947.5 1050.7,947.7 1051.3,947.8 1051.9,946.8 1052.5,947.5 1053.1,947.4 1053.7,946.2 1054.3,946.9 1054.9,947.4 1055.5,946.5 1056.1,946.8 1056.7,946.9 1057.3,946.3 1057.9,946.9 1058.5,946.5 1059.1,945.7 1059.7,946.5 1060.3,946.7 1060.9,946.6 1061.5,945.7 1062.1,946.3 1062.7,946.8 1063.3,946.1 1063.9,946.6 1064.5,946.6 1065.1,945.8 1065.7,946.1 1066.3,945.5 1066.9,946.3 1067.5,945.6 1068.1,945.3 1068.7,945.5 1069.3,945.5 1069.9,945.7 1070.5,945.7 1071.1,944.7 1071.7,945 1072.3,945.6 1072.9,945.6 1073.5,945.3 1074.1,946.8 1074.7,945.9 1075.3,945.2 1075.9,945.6 1076.5,946 1077.1,945.3 1077.7,944.1 1078.3,945.1 1078.9,945.1 1079.5,946.3 1080.1,943.9 1080.7,945.9 1081.3,944.9 1081.9,945.5 1082.5,944.8 1083.1,945 1083.7,945.6 1084.3,945 1084.9,945.5 1085.5,944.8 1086.1,944.6 1086.7,944.7 1087.3,944.6 1087.9,944.8 1088.5,945.7 1089.1,944.1 1089.7,943.8 1090.3,944.8 1090.9,945.8 1091.5,945.4 1092.1,945.6 1092.7,945.6 1093.3,944.4 1093.9,944.9 1094.5,943.2 1095.1,944.4 1095.7,945.2 1096.3,943.9 1096.9,943.6 1097.5,944 1098.1,945 1098.7,945.5 1099.3,946.4 1099.9,945.7 1100.5,944 1101.1,943.5 1101.7,945 1102.3,945.5 1102.9,943.9 1103.5,944.6 1104.1,944.7 1104.7,945 1105.3,944.8 1105.9,945.3 1106.5,945.6 1107.1,945 1107.7,945.5 1108.3,946.2 1108.9,944.4 1109.5,944.4 1110.1,945.4 1110.7,946.2 1111.3,945.2 1111.9,945.8 1112.5,944.9 1113.1,945.7 1113.7,944.8 1114.3,945.6 1114.9,945.4 1115.5,945.4 1116.1,946 1116.7,945.9 1117.3,944.9 1117.9,945.8 1118.5,944.3 1119.1,945.9 1119.7,947 1120.3,945.6 1120.9,945.6 1121.5,945.4 1122.1,945.9 1122.7,945.1 1123.3,945.8 1123.9,945.2 1124.5,945.1 1125.1,945.5 1125.7,945.4 1126.3,944.4 1126.9,946.7 1127.5,945.5 1128.1,944.4 1128.7,946.1 1129.3,945.4 1129.9,945.6 1130.5,945.9 1131.1,944.9 1131.7,943.7 1132.3,945.4 1132.9,945.6 1133.5,945.7 1134.1,944.1 1134.7,943.6 1135.3,943 1135.9,941.6 1136.5,940.6 1137.1,939.9 1137.7,938 1138.3,938.1 1138.9,935.1 1139.5,934.3 1140.1,933 1140.7,931.9 1141.3,932.1 1141.9,932 1142.5,931.8 1143.1,931 1143.7,930 1144.3,930.5 1144.9,928.9 1145.5,929.6 1146.1,929.7 1146.7,929.5 1147.3,928.3 1147.9,927.9 1148.5,929.6 1149.1,928.2 1149.7,927.3 1150.3,927.4 1150.9,928 1151.5,928.5 1152.1,927.7 1152.7,928.2 1153.3,927.5 1153.9,927.5 1154.5,927.7 1155.1,926.7 1155.7,927 1156.3,926.5 1156.9,926.2 1157.5,926.9 1158.1,925.8 1158.7,926.3 1159.3,925.6 1159.9,925.9 1160.5,925.6 1161.1,926.4 1161.7,925.7 1162.3,925.6 1162.9,926.5 1163.5,923.6 1164.1,924.6 1164.7,923.5 1165.3,925.1 1165.9,925.3 1166.5,925.3 1167.1,925 1167.7,924.2 1168.3,925.7 1168.9,924.8 1169.5,924.4 1170.1,923.8 1170.7,924.7 1171.3,924 1171.9,924 1172.5,924.3 1173.1,924.3 1173.7,923.6 1174.3,924.8 1174.9,923.4 1175.5,923.3 1176.1,924.1 1176.7,923.9 1177.3,923.8 1177.9,923.5 1178.5,923.7 1179.1,923.3 1179.7,922.6 1180.3,924 1180.9,922.9 1181.5,923.3 1182.1,923.9 1182.7,923.4 1183.3,925 1183.9,922.5 1184.5,922.8 1185.1,923.3 1185.7,924 1186.3,923 1186.9,922.3 1187.5,923.8 1188.1,922.5 1188.7,922.9 1189.3,923.5 1189.9,922.6 1190.5,922.7 1191.1,923.2 1191.7,922.8 1192.3,923 1192.9,922.3 1193.5,922.7 1194.1,922.1 1194.7,921.8 1195.3,923.8 1195.9,923 1196.5,923.2 1197.1,922.1 1197.7,922.6 1198.3,922.5 1198.9,921.7 1199.5,922.9 1200.1,922.1 1200.7,922.4 1201.3,921.6 1201.9,923 1202.5,922.9 1203.1,922.6 1203.7,921.8 1204.3,922 1204.9,923.1 1205.5,922.1 1206.1,922.4 1206.7,922.3 1207.3,921.5 1207.9,923.1 1208.5,921 1209.1,922.3 1209.7,922.1 1210.3,921.1 1210.9,922.3 1211.5,922.4 1212.1,922 1212.7,921.5 1213.3,922.2 1213.9,922.6 1214.5,922 1215.1,922.9 1215.7,922.4 1216.3,922.3 1216.9,922.6 1217.5,921.4 1218.1,921.4 1218.7,922 1219.3,922 1219.9,922.6 1220.5,922.3 1221.1,921.7 1221.7,921.7 1222.3,921.4 1222.9,921.3 1223.5,921.3 1224.1,922.1 1224.7,921.2 1225.3,921.3 1225.9,921.6 1226.5,921.2 1227.1,921.3 1227.7,920.1 1228.3,921.7 1228.9,921.2 1229.5,921.5 1230.1,921.6 1230.7,920.3 1231.3,922.8 1231.9,921.5 1232.5,921.5 1233.1,920.3 1233.7,921.7 1234.3,921.6 1234.9,921.1 1235.5,921.5 1236.1,922.1 1236.7,921.1 1237.3,920.8 1237.9,922.1 1238.5,921.4 1239.1,921.2 1239.7,922.6 1240.3,921.3 1240.9,921.1 1241.5,921.4 1242.1,920.9 1242.7,921.3 1243.3,921.2 1243.9,920.7 1244.5,920.9 1245.1,921.3 1245.7,921.3 1246.3,921.4 1246.9,921.4 1247.5,921.1 1248.1,921.2 1248.7,920.6 1249.3,920.7 1249.9,921.4 1250.5,919.6 1251.1,920.9 1251.7,922.6 1252.3,919.5 1252.9,921.5 1253.5,919.5 1254.1,920.7 1254.7,921.4 1255.3,921.2 1255.9,919.7 1256.5,919.4 1257.1,919.3 1257.7,920.5 1258.3,919.8 1258.9,920 1259.5,920 1260.1,920 1260.7,919.3 1261.3,917.8 1261.9,915.2 1262.5,915.6 1263.1,911.7 1263.7,912.9 1264.3,910.4 1264.9,909.4 1265.5,908.1 1266.1,907.3 1266.7,906.8 1267.3,905.9 1267.9,904.8 1268.5,905.4 1269.1,904 1269.7,904.6 1270.3,903.3 1270.9,902.6 1271.5,902.9 1272.1,902.9 1272.7,901.6 1273.3,901.7 1273.9,902.5 1274.5,900.8 1275.1,900.7 1275.7,901.1 1276.3,900.1 1276.9,899.2 1277.5,899.5 1278.1,900.5 1278.7,900.6 1279.3,900.4 1279.9,900.1 1280.5,899 1281.1,900 1281.7,900.2 1282.3,898.9 1282.9,899.8 1283.5,898.9 1284.1,899.1 1284.7,899.1 1285.3,897.9 1285.9,899.6 1286.5,898.1 1287.1,898.4 1287.7,898.1 1288.3,898.6 1288.9,898.4 1289.5,898.1 1290.1,898.8 1290.7,898.1 1291.3,897.6 1291.9,896 1292.5,897.5 1293.1,897.4 1293.7,896.9 1294.3,896.8 1294.9,897.6 1295.5,897.8 1296.1,898.2 1296.7,897.7 1297.3,896.5 1297.9,897 1298.5,896 1299.1,897.1 1299.7,896.8 1300.3,896.2 1300.9,896.4 1301.5,896.2 1302.1,895.9 1302.7,897 1303.3,898 1303.9,896.6 1304.5,896.7 1305.1,896.1 1305.7,895.7 1306.3,897.2 1306.9,895.6 1307.5,895.9 1308.1,895.6 1308.7,895.9 1309.3,895.5 1309.9,895.8 1310.5,894.7 1311.1,895.3 1311.7,896.1 1312.3,894.6 1312.9,894.8 1313.5,896 1314.1,895.3 1314.7,895.7 1315.3,893.7 1315.9,895.1 1316.5,894.2 1317.1,894 1317.7,895.1 1318.3,895.5 1318.9,893.9 1319.5,894.1 1320.1,894.3 1320.7,894.6 1321.3,893.8 1321.9,895.9 1322.5,894.9 1323.1,894.3 1323.7,894.2 1324.3,895.9 1324.9,895.8 1325.5,894.1 1326.1,894.6 1326.7,895.1 1327.3,893.6 1327.9,893.9 1328.5,895.1 1329.1,893.8 1329.7,894 1330.3,893.4 1330.9,893.7 1331.5,894.6 1332.1,893.6 1332.7,893.3 1333.3,893.7 1333.9,895.1 1334.5,894.1 1335.1,893.7 1335.7,894.1 1336.3,894.2 1336.9,894 1337.5,892.8 1338.1,894.1 1338.7,893.8 1339.3,894.4 1339.9,893 1340.5,894.5 1341.1,893.5 1341.7,892.8 1342.3,894.6 1342.9,893.4 1343.5,894 1344.1,893.6 1344.7,894.4 1345.3,894.3 1345.9,894.3 1346.5,894.1 1347.1,892.6 1347.7,892.6 1348.3,893.7 1348.9,893 1349.5,893.8 1350.1,893.6 1350.7,892.6 1351.3,892.8 1351.9,892.8 1352.5,892.9 1353.1,893.3 1353.7,893.8 1354.3,894.2 1354.9,892.8 1355.5,893 1356.1,894.2 1356.7,893.8 1357.3,893.4 1357.9,891.8 1358.5,892.6 1359.1,893.3 1359.7,892.8 1360.3,894.3 1360.9,893.1 1361.5,893.2 1362.1,892.4 1362.7,892.4 1363.3,892.6 1363.9,892.5 1364.5,892.8 1365.1,893.1 1365.7,893 1366.3,893.4 1366.9,891.9 1367.5,892.9 1368.1,892.8 1368.7,893.6 1369.3,892.5 1369.9,892.8 1370.5,892.1 1371.1,892.8 1371.7,892.7 1372.3,892.1 1372.9,892.1 1373.5,892.4 1374.1,892.7 1374.7,891.6 1375.3,892.8 1375.9,892 1376.5,893.3 1377.1,893 1377.7,891.9 1378.3,891.7 1378.9,893.5 1379.5,892.4 1380.1,892.3 1380.7,891.7 1381.3,891.8 1381.9,892.3 1382.5,892.2 1383.1,891.3 1383.7,892.5 1384.3,891.9 1384.9,891.1 1385.5,892.2 1386.1,891.4 1386.7,892 1387.3,891.1 1387.9,891.7 1388.5,890.4 1389.1,891.6 1389.7,890.4 1390.3,891.4 1390.9,889.7 1391.5,891.1 1392.1,891.6 1392.7,891.4 1393.3,891.8 1393.9,890.4 1394.5,891.9 1395.1,891.9 1395.7,890.2 1396.3,890.4 1396.9,890.5 1397.5,890.8 1398.1,890.9 1398.7,889.2 1399.3,891 1399.9,890.5 1400.5,890 1401.1,891.1 1401.7,890.3 1402.3,891.2 1402.9,890.8 1403.5,890.2 1404.1,891.1 1404.7,890.8 1405.3,890 1405.9,889.3 1406.5,889.9 1407.1,890.5 1407.7,890 1408.3,891.2 1408.9,890.2 1409.5,890.1 1410.1,890.2 1410.7,889.4 1411.3,889.9 1411.9,889.5 1412.5,888.5 1413.1,888.8 1413.7,890.3 1414.3,889.6 1414.9,889.7 1415.5,888.9 1416.1,889.4 1416.7,890.2 1417.3,889.7 1417.9,889.3 1418.5,890.5 1419.1,889.4 1419.7,888.9 1420.3,889.2 1420.9,886.5 1421.5,886.6 1422.1,884 1421.9,882.6 1423.3,881.6 1423.8,880.2 1425.9,878.6 1425.1,876.6 1423.2,874.3 1424.6,873.4 1422.7,872.1 1423.5,871.7 1426.2,868.6 1424.7,865.7 1423.9,863.6 1425.8,862.1 1425.5,862.9 1427.6,862.4 1426,859.6 1425.9,857.9 1426.9,858.2 1426.6,855.2 1426.8,854.7 1427.6,853 1429.3,852.7 1428.5,848.5 1429.1,848.3 1429.7,847.8 1430.3,845.4 1430.9,845.5 1431.5,843.9 1432.1,843.1 1432.7,841.4 1433.3,840.9 1433.9,840.2 1434.5,837.4 1435.1,837.3 1435.7,836.5 1436.3,838.6 1436.9,836.7 1437.5,836.2 1438.1,835.5 1438.7,834.3 1439.3,833.6 1439.9,834.8 1440.5,833.1 1441.1,834.7 1441.7,832.9 1442.3,832.4 1442.9,831.8 1443.5,831.6 1444.1,831.4 1444.7,832.6 1445.3,833.1 1445.9,829.3 1446.5,830.5 1447.1,830.6 1447.7,828.8 1448.3,828.8 1448.9,828.8 1449.5,826.6 1450.1,829.4 1450.7,828.5 1451.3,828.3 1451.9,828.2 1452.5,828.2 1453.1,830.1 1453.7,827.8 1454.3,828.3 1454.9,826.7 1455.5,827.4 1456.1,826.6 1456.7,826.6 1457.3,825.7 1457.9,825.6 1458.5,826.7 1459.1,826.9 1459.7,826.5 1460.3,825.2 1460.9,826 1461.5,823 1462.1,826.4 1462.7,825.3 1463.3,825.4 1463.9,826.2 1464.5,824.5 1465.1,825.7 1465.7,824.2 1466.3,825.1 1466.9,824 1467.5,824.6 1468.1,825.6 1468.7,823.4 1469.3,823.4 1469.9,823.5 1470.5,824.3 1471.1,828.1 1471.7,822.7 1472.3,820.2 1472.9,822.4 1473.5,820.8 1474.1,822.3 1474.7,823.2 1475.3,821.5 1475.9,821.9 1476.5,819.9 1477.1,823.1 1477.7,821.5 1478.3,824.4 1478.9,824.2 1479.5,821.1 1480.1,821.8 1480.7,822.4 1481.3,823.4 1481.9,819.5 1482.5,822 1483.1,825 1483.7,821.8 1484.3,822.2 1484.9,821.8 1485.5,819.9 1486.1,823.2 1486.7,822.1 1487.3,821.9 1487.9,822.8 1488.5,822.9 1489.1,818.5 1489.2,821.5 1489.2,806 1489.2,821.5 1489.7,822.3 1490.3,820.6 1490.9,821.8 1491.5,820.4 1492.1,820.2 1492.7,823.1 1493.3,821.6 1493.9,821.2 1494.3,821.6 1494.3,763.5 1494.3,821.6 1494.3,790 1494.3,821.6 1494.3,855.8 1494.3,821.6 1494.5,821.2 1495.1,821.8 1495.7,821.7 1496,821.6 1496,836.8 1496,821.6 1496.3,817.9 1496.9,820.3 1497,821.6 1497,805.5 1497,821.6 1497.5,821.4 1498.1,823 1498.7,824 1499.3,820.3 1499.3,821.8 1499.3,836.8 1499.3,821.8 1499.9,825 1500.5,822.1 1501.1,822.7 1501.7,821.1 1502.3,821 1502.9,824.4 1503.5,821.7 1504.1,822 1504.7,824 1505.3,825 1505.9,819.8 1506.5,822 1507.1,822.3 1507.7,825.3 1508.3,826.3 1508.9,822.4 1509.5,823.1 1510.1,823.9 1510.7,824.4 1511.3,822.1 1511.9,824 1512.5,821.5 1513.1,818.4 1513.7,820.5 1514.3,823.1 1514.9,824.1 1515.5,819.2 1516.1,820 1516.7,822.8 1517.3,817.5 1517.9,823.8 1518.5,824.6 1519.1,818.2 1519.7,824.3 1520.3,822.7 1520.9,825.4 1521.5,823.6 1522.1,822.7 1522.7,823.3 1523.3,824.7 1523.9,823.5 1524.5,823.3 1525.1,820.9 1525.7,824 1526.3,823.3 1526.9,826.3 1527.5,823.3 1528.1,823.2 1528.7,822.4 1529,823.2 1529,812.7 1529,823.2 1529.3,824.6 1529.5,823.2 1529.5,831.7 1529.5,823.2 1529.9,823.1 1530.5,822.3 1531.1,826 1531.7,826.3 1532.3,822.8 1532.9,821.9 1533.5,825.3 1534.1,822.2 1534.7,828.1 1535.3,823.4 1535.9,825.2 1536.5,821.5 1537.1,823.6 1537.7,825.4 1538.3,824.4 1538.5,823.5 1538.5,831.7 1538.5,823.5 1538.9,822.8 1539.5,827.7 1540.1,824.9 1540.7,823.4 1541.3,822.8 1541.9,823.4 1542.5,826 1543.1,822.6 1543.7,823.9 1544.3,822.6 1544.9,825.9 1545.5,823.7 1546.1,825.3 1546.7,824.9 1547.3,823 1547.9,825.1 1548.5,825.5 1549.1,822.2 1549.7,825.2 1550.3,829.8 1550.9,823.6 1551.5,825.2 1552.1,822 1552.7,824.9 1553.3,823.3 1553.9,825.5 1554.5,824.2 1555.1,822.4 1555.2,824 1555.2,794.3 1555.2,824 1555.7,826.1 1556.3,824 1556.4,824.1 1556.4,838.5 1556.4,824.1 1556.9,822.7 1556.9,824.1 1556.9,482.9 1556.9,824.1 1557.5,824.5 1557.5,824.1 1557.5,869.8 1557.5,824.1 1558.1,822.9 1558.7,825.1 1559.3,824.4 1559.9,823.9 1560.5,825.6 1561.1,822.5 1561.7,826.1 1562.3,821.4 1562.9,827.2 1563.5,825 1564.1,824.3 1564.7,823.5 1565.3,825.6 1565.9,824.5 1566.5,824.5 1567.1,826.5 1567.7,824.2 1568.3,824.5 1568.9,825.6 1569.5,826.7 1569.8,824.7 1569.8,751.2 1569.8,824.7 1569.8,778 1569.8,824.7 1569.8,814.4 1569.8,824.7 1569.8,837.3 1569.8,824.7 1569.8,851.3 1569.8,824.7 1570.1,824.8 1570.7,825.3 1571.3,825.1 1571.9,826.3 1572.5,827.5 1573.1,823.6 1573.7,825 1574.3,825.1 1574.9,826.2 1575.5,827.7 1576.1,825.3 1576.7,825.7 1577.3,827.2 1577.9,823.4 1578.5,824.2 1579.1,824.7 1579.7,825.5 1580.3,825.9 1580.9,824.7 1581.5,828.4 1582.1,824.5 1582.7,825.3 1583.3,827.4 1583.9,826.9 1584.3,825.5 1584.3,836.2 1584.3,825.5 1584.5,825.7 1585.1,826.4 1585.7,827.1 1586.3,825.8 1586.9,826.9 1587.5,824.4 1588.1,826 1588.7,823.3 1589.3,824.5 1589.9,824.1 1590,825.7 1590,812.2 1590,825.7 1590,816 1590,825.7 1590.5,828 1591.1,825.3 1591.7,826.5 1592.3,824.6 1592.9,825.8 1593.5,825.7 1594.1,824.7 1594.7,827.5 1595.3,823.5 1595.9,827.2 1596.5,830.5 1597.1,824.9 1597.7,826.3 1598.3,823.7 1598.9,826.2 1599.5,823.5 1600,826.1 1600,834 1600,826.1 1600.1,827.3 1600.7,825.5 1601.3,823.3 1601.9,824.2 1602.5,823.8 1603.1,825.9 1603.7,827.8 1604.3,825.8 1604.9,824.5 1605.5,825.1 1606.1,826.6 1606.7,822.5 1607.3,827.4 1607.9,827.1 1608.5,822.5 1609.1,828.4 1609.7,823.8 1610.3,826.2 1610.9,828.4 1611.5,823.9 1612,826.5 1612,834 1612,826.5 1612.1,823.5 1612.7,824.7 1613.3,824.8 1613.9,826.4 1614.5,825.7 1615.1,825.8 1615.7,825.8 1616.3,826.3 1616.9,825.2 1617.5,827.2 1618.1,826.7 1618.7,825 1619.3,829.7 1619.9,824.6 1620.5,827.9 1621.1,825.5 1621.7,827.4 1622.3,827.6 1622.9,828.2 1623.5,829.1 1624.1,825.5 1624.7,831.5 1625,826.8 1625,818 1625,826.8 1625.3,827.5 1625.9,825.6 1626.5,824.7 1627.1,830.8 1627.7,829.6 1628.3,826.9 1628.9,828.2 1629.5,829.2 1630.1,827.2 1630.7,826.4 1631.3,827 1631.9,828.5 1632.5,827.1 1633.1,825.1 1633.7,828.4 1634.3,824.3 1634.9,826 1635.5,829.2 1636.1,827.6 1636.7,827.6 1637.3,827.4 1637.9,829 1638.5,827.2 1639.1,824.1 1639.7,827.8 1640.3,822.4 1640.9,824 1641.5,830 1642.1,829.1 1642.7,826.7 1643.3,827.4 1643.9,827.7 1644.5,829.2 1645.1,826.3 1645.7,826.2 1646.3,826.6 1646.9,827.9 1647.5,828.1 1648.1,827.1 1648.7,829 1649.3,826.1 1649.9,827.7 1650.5,826.7 1651.1,826.2 1651.7,829.9 1652.3,827.4 1652.9,826.3 1653.5,828 1654.1,826.4 1654.7,829 1655.3,829.5 1655.9,829.8 1656.5,826.4 1657.1,828 1657.7,831.3 1658.3,827.9 1658.9,830.4 1659.5,830.9 1660,828.3 1660,837 1660,828.3 1660.1,826.2 1660.7,830.4 1661.3,829.7 1661.9,830 1662.5,831.4 1663.1,829.4 1663.7,828.8 1664.3,829.8 1664.9,828.3 1665.5,829.7 1666.1,825.7 1666.7,831.9 1667,828.3 1667.3,838 1667.4,847 1667.5,852 1667.5,857.5 1667.6,862 1667.6,866 1667.7,871 1667.7,875 1667.8,880 1667.8,885.6 1667.9,890 1667.9,896 1668,900 1668.1,905 1668.5,905.4 1668.4,906.6 1666.5,908.1 1669.8,909.2 1667.4,910.4 1670.1,913.7 1668.8,914.7 1669.8,915.4 1669,917.1 1668.5,917.3 1671.2,918.7 1669.4,920.9 1669.8,922.8 1669.3,924.4 1672.1,924.6 1669.8,926.5 1670,927.9 1671.6,929.8 1671.4,930.6 1672.7,932.1 1671.7,933.1 1672.3,935.3 1672.9,937.1 1673.5,937.1 1674.1,939.1 1674.7,940.2 1675.3,940.5 1675.9,941.7 1676.5,943.1 1677.1,943.4 1677.7,943.6 1678.3,944.3 1678.9,945.4 1679.5,946.5 1680.1,946.7 1680.7,947.3 1681.3,948.3 1681.9,947 1682.5,947.6 1683.1,947.5 1683.7,949.9 1684.3,948.5 1684.9,950.3 1685.5,951.2 1686.1,950.3 1686.7,951.2 1687.3,951.8 1687.9,952.8 1688.5,951.8 1689.1,953.2 1689.7,953.8 1690.3,953.8 1690.9,954.1 1691.5,955 1692.1,954.7 1692.7,954.8 1693.3,954.8 1693.9,955.7 1694.5,955.3 1695.1,956.1 1695.7,956 1696.3,956.8 1696.9,955.9 1697.5,956.6 1698.1,957 1698.7,957.2 1699.3,957.8 1699.9,957.6 1700.5,958 1701.1,958.9 1701.7,958.4 1702.3,957.4 1702.9,957.3 1703.5,958.8 1704.1,958.3 1704.7,958.9 1705.3,958.7 1705.9,959.8 1706.5,959.9 1707.1,958.6 1707.7,959.6 1708.3,959.4 1708.9,958.9 1709.5,960.2 1710.1,959.9 1710.7,960.4 1711.3,961.7 1711.9,961.2 1712.5,961.2 1713.1,960.4 1713.7,960 1714.3,961.6 1714.9,960.8 1715.5,961.1 1716.1,961 1716.7,961.4 1717.3,962.9 1717.9,961.3 1718.5,961.5 1719.1,961.8 1719.7,962 1720.3,961.2 1720.9,961 1721.5,961.8 1722.1,962.1 1722.7,961.8 1723.3,961.8 1723.9,961.9 1724.5,962.4 1725.1,962.6 1725.7,961.8 1726.3,962.5 1726.9,963.2 1727.5,963 1728.1,962.3 1728.7,963 1729.3,963.3 1729.9,963.9 1730.5,962.5 1731.1,964 1731.7,963.4 1732.3,963.8 1732.9,964.2 1733.5,963.4 1734.1,963.5 1734.7,964 1735.3,964.5 1735.9,963.9 1736.5,963.4 1737.1,963.9 1737.7,964.6 1738.3,965.2 1738.9,964.2 1739.5,964.4 1740.1,964.6 1740.7,964.7 1741.3,964.2 1741.9,964.6 1742.5,965.1 1743.1,965 1743.7,965.1 1744.3,964.5 1744.9,964.8 1745.5,964.8 1746.1,965.9 1746.7,966.2 1747.3,965.6 1747.9,966.4 1748.5,965.3 1749.1,965.4 1749.7,964.8 1750.3,965.8 1750.9,965.4 1751.5,965.8 1752.1,966.1 1752.7,965.7 1753.3,965.2 1753.9,965.9 1754.5,965.9 1755.1,966 1755.7,966.5 1756.3,966 1756.9,966 1757.5,967.3 1758.1,966.9 1758.7,966.3 1759.3,965.8 1759.9,966.2 1760.5,966.7 1761.1,967 1761.7,968 1762.3,966.5 1762.9,966.7 1763.5,966.5 1764.1,966.8 1764.7,966.6 1765.3,966.2 1765.9,967.5 1766.5,967 1767.1,967.7 1767.7,966.7 1768.3,967.2 1768.9,967.5 1769.5,966 1770.1,966.4 1770.7,967.7 1771.3,967.3 1771.9,966.2 1772.5,966.9 1773.1,966.8 1773.7,967.1 1774.3,968.4 1774.9,967.2 1775.5,968.7 1776.1,967.4 1776.7,967.2 1777.3,968.6 1777.9,968.2 1778.5,968.5 1779.1,968.9 1779.7,968.4 1780.3,968.5 1780.9,966.8 1781.5,967.3 1782.1,968.1 1782.7,968 1783.3,968.3 1783.9,967.6 1784.5,968.6 1785.1,969.1 1785.7,968.3 1786.3,968.5 1786.9,968.3 1787.5,968.5 1788.1,968.1 1788.7,967.7 1789.3,968.1 1789.9,968.1 1790.5,967.1 1791.1,968.2 1791.7,968 1792.3,968.2 1792.9,967.7 1793.5,968.3 1794.1,968.4 1794.7,967.6 1795,968.2 1795.3,964.7 1795.6,955 1795.9,945 1796.2,935 1796.5,925 1796.8,915 1797.1,905 1797.4,895 1797.7,884 1798.2,873.5 1799.1,874 1797.3,871.5 1797.4,870.5 1797.8,870.5 1799.6,867 1796.4,865.7 1798.1,864.4 1797.5,862.7 1799.3,860.9 1798.4,859.9 1798.8,858 1799.7,857 1800.7,854.7 1800.6,853.5 1800.6,851.9 1800.5,850.9 1801.1,849.7 1800.9,848 1800.8,845.7 1798.6,843.6 1801,843.3 1802.1,842.8 1801.2,841.1 1802.9,839.2 1802.2,837.7 1801,836 1800.5,833.9 1801.9,833.1 1802.8,831 1803.7,829.6 1803.2,829.5 1801.2,826.5 1803.4,826.6 1804.3,823.2 1802.8,821.4 1803,820.8 1806.1,818.8 1804.1,817.8 1802.1,816.5 1804.2,814.7 1803.8,814.1 1804,812.3 1801.9,811 1804.1,809.5 1801.8,807.3 1805.8,805.6 1804.6,806.1 1806.1,802.8 1805.1,801.9 1805.6,800.1 1807.1,799.1 1807.4,798.3 1806.8,796.2 1805.8,794.9 1807.4,794.1 1806.5,792.2 1808.1,790.5 1807.1,788.2 1810.1,786.3 1808.5,786.1 1807.8,784 1806.9,781.3 1809,780.5 1810.3,778.7 1809.9,778.2 1809.7,775.4 1808.8,774.9 1812.6,772.1 1810.4,772.3 1812.3,771.4 1811.6,769.2 1813.2,767.9 1811.7,766 1809.1,764.8 1812.1,763.1 1812.6,761.5 1813.3,760.2 1813.3,758.6 1813.2,757.3 1812.3,756.2 1815,754.2 1814.4,751.9 1815.1,752 1812.3,749.2 1816.1,748.4 1818.7,747.1 1817,745.2 1817.2,743.4 1818.5,742.3 1817.3,741.1 1820.1,739 1819.9,737.3 1820.3,737.3 1820.1,735 1820.6,734.2 1821.1,732.1 1821.6,730.4 1822.1,728.8 1822.7,728.1 1823.2,726.4 1823.8,725.4 1824.4,722.8 1825,721.3 1825.6,719.7 1826.2,718.7 1826.8,716.7 1827.4,716.2 1828,714.5 1828.6,712.3 1829.2,709.8 1829.8,709.1 1830.4,709.8 1831,707.7 1831.6,706.6 1832.2,705 1832.8,704.4 1833.4,701.8 1834,700.7 1834.6,699.8 1835.2,699.8 1835.8,699.1 1836.4,697.9 1837,696.5 1837.6,694.8 1838.2,695.1 1838.8,693.5 1839.4,692.7 1840,691.7 1840.6,690.5 1841.2,689.5 1841.8,688.7 1842.4,687.4 1843,687.4 1843.6,686.3 1844.2,686.2 1844.8,683.7 1845.4,684.7 1846,683.2 1846.6,682.4 1847.2,681.3 1847.8,680.6 1848.4,679.5 1849,680.2 1849.6,678.9 1850.2,678.8 1850.8,678.2 1851.4,676.8 1852,676.3 1852.6,675.7 1853.2,675.9 1853.8,674.8 1854.4,674.2 1855,674 1855.6,672.9 1856.2,673.6 1856.8,671.3 1857.4,672 1858,671.6 1858.6,669.5 1859.2,670.1 1859.8,669.2 1860.4,669 1861,667.2 1861.6,667.5 1862.2,666.3 1862.8,666.1 1863.4,666.6 1864,665.1 1864.6,663.3 1865.2,663.2 1865.8,662.8 1866.4,663.6 1867,662 1867.6,660.9 1868.2,662 1868.8,661 1869.4,660.5 1870,659.3 1870.6,660.1 1871.2,658.7 1871.8,657 1872.4,657 1873,656.7 1873.6,656.6 1874.2,656.7 1874.8,655.3 1875.4,653.6 1876,660.9 1876.6,654.5 1877.2,652.3 1877.8,653.4 1878.4,649.3 1879,653.8 1879.6,654.5 1880.2,649.7 1880.3,651.2 1880.3,628.9 1880.3,651.2 1880.8,653.7 1881.4,649.6 1882,650.8 1882.6,647.4 1883.2,646.9 1883.3,649 1883.3,676 1883.3,649 1883.8,644.5 1884.4,648.9 1885,647.1 1885.6,646.9 1886.2,644.1 1886.8,643.6 1887.4,644.8 1888,647.6 1888.6,646.9 1889.2,643.9 1889.8,646.3 1890.4,650.2 1891,645.3 1891.6,650.5 1892.2,645.8 1892.8,648.1 1893.4,642.7 1894,647.2 1894.6,640.4 1895.2,644.2 1895.8,642.3 1896.4,637.5 1897,639 1897.6,645.8 1898.2,643.7 1898.5,642.2 1898.5,622.8 1898.5,642.2 1898.5,668.4 1898.5,642.2 1898.8,645.7 1899.4,642.4 1900,633.5 1900.2,641.5 1900.2,622.3 1900.2,641.5 1900.2,667 1900.2,641.5 1900.6,642 1901.2,639.5 1901.8,639.4 1902.4,639.2 1903,638 1903.6,637.2 1904.2,643.1 1904.8,640.5 1905.4,637.1 1906,637.5 1906.6,641 1907.2,639.1 1907.8,638.2 1908.4,634 1909,635.9 1909.6,633.6 1910.2,631.2 1910.8,638.7 1911.4,635.1 1912,634.6 1912.6,632.8 1913.2,637.4 1913.8,640.9 1914,635 1914,627 1914,635 1914.4,636.5 1915,637.3 1915.6,631 1916.2,634.8 1916.8,634.7 1917.4,638.1 1918,633.8 1918.6,631 1919.2,633.2 1919.8,632.1 1920.4,637.2 1921,634.8 1921.6,633.7 1922.2,633.1 1922.8,634.8 1923,632.4 1923,615.9 1923,632.4 1923.4,631 1924,629.6 1924.6,626.8 1925.2,635.2 1925.8,633.2 1926.4,633.4 1927,631.6 1927.6,636 1928.2,628.5 1928.8,634.4 1929.4,628.6 1930,629.5 1930.6,627.3 1931.2,630.8 1931.8,629.6 1932.4,631.5 1933,628.5 1933.6,626.2 1934.2,631.5 1934.8,633.4 1935.4,631.8 1936,629.4 1936.6,630.6 1937.2,624.6 1937.8,628.3 1938.4,632.3 1939,630.3 1939.6,626.5 1940.2,631.2 1940.8,628.3 1941.4,630.6 1941.8,628.5 1941.8,612.7 1941.8,628.5 1941.8,651 1941.8,628.5 1942,624.5 1942.6,626.8 1943.2,629.1 1943.8,628.9 1944.4,629.5 1945,627.8 1945.6,627.2 1946.2,628.9 1946.8,629.9 1947.4,623.1 1948,626.4 1948.6,626.6 1949.2,627.5 1949.8,629.8 1950.4,623.1 1951,628.2 1951.6,621.8 1952,626.6 1952,615 1952,626.6 1952,636 1952,626.6 1952.2,624.4 1952.8,624.9 1953.4,625.5 1954,624.5 1954.6,624.6 1955.2,625 1955.8,625.1 1956.4,620.6 1957,621.7 1957.6,624.3 1958.2,626.9 1958.8,628.1 1959.4,633.2 1960,625.4 1960.6,622.4 1961.2,625.5 1961.8,627.1 1962.4,625.2 1963,621.1 1963.6,624.2 1964.2,624.3 1964.8,619.7 1965.4,620.3 1966,628.1 1966.6,616.7 1967.2,624.5 1967.8,623 1968.4,628.3 1969,625.7 1969.6,620.7 1970,623.6 1970,609.5 1970,623.6 1970,635 1970,623.6 1970.2,627.6 1970.8,621.5 1971.4,629.8 1972,628.6 1972.6,622.8 1973.2,625.5 1973.8,623.5 1974.4,619.9 1975,626.2 1975.6,624 1976.2,625.3 1976.8,626 1977.4,627 1978,625.7 1978.6,621.9 1979.2,622.4 1979.8,623.3 1980.4,621.5 1981,621 1981.6,627.8 1982.2,623.2 1982.8,627.7 1983.4,618.9 1984,621.2 1984.6,619.8 1985.2,619.9 1985.8,620.1 1986.4,620.6 1987,619.5 1987.6,626.7 1988.2,622.9 1988.8,618.2 1989.4,618.8 1990,622.9 1990,620.5 1990,612 1990,620.5 1990,630 1990,620.5 1990.6,622.1 1991.2,618.3 1991.8,623.2 1992.4,615.4 1993,618.5 1993.6,625.6 1994.2,611.3 1994.8,619.1 1995.4,622.9 1996,619.1 1996.6,616.9 1997.2,616.5 1997.8,612.5 1998.4,614.9 1999,619.3 1999.6,617.2 2000.2,618.9 2000.8,618.4 2001.4,619.7 2002,613.3 2002.6,617.6 2003.2,617.4 2003.8,617.4 2004.4,615.4 2005,611.1 2005,618.2 2005,567.9 2005,618.2 2005,643.7 2005,618.2 2005.6,620.2 2006.2,620.7 2006.8,625.7 2007.4,620.3 2008,623.2 2008.6,619.7 2009.2,616.4 2009.8,619.2 2010.4,613.6 2011,618.1 2011.6,616.9 2012.2,613.7 2012.8,621.1 2013.4,620.6 2014,618.4 2014.6,619.5 2015.2,622.1 2015.8,616.2 2016.4,612.1 2017,613.3 2017.6,618.6 2017.9,616.3 2017.9,641.4 2017.9,616.3 2018.2,617 2018.8,611.3 2019.4,620.4 2020,616.6 2020,615.9 2020,584.8 2020,615.9 2020.6,621.1 2021.2,619.5 2021.8,614.2 2022.4,615.9 2023,613.1 2023.6,612.6 2024.2,614.3 2024.8,616.8 2025.4,619.6 2026,612.1 2026.6,617.2 2027.2,615 2027.8,614 2028.4,618.3 2029,613.4 2029.6,619 2030,614.3 2030,600 2030,614.3 2030,625 2030,614.3 2030.2,613.3 2030.8,611.3 2031.4,616.7 2032,609.4 2032.6,610.2 2033.2,613.3 2033.8,613.9 2034.4,612.9 2035,607.2 2035.6,609.2 2036.2,615.2 2036.8,615.2 2037.4,610.1 2038,614.2 2038.6,613.9 2039.2,616.5 2039.8,610.7 2040.4,618.2 2041,611.8 2041.6,618 2042.2,616.1 2042.8,609.1 2043.4,611.5 2044,613.6 2044.6,616.1 2045.2,607.5 2045.8,610.6 2046.4,614.5 2047,613.9 2047.6,608.4 2048.2,608.9 2048.8,613.6 2049,611.9 2049,556 2049,611.9 2049.4,608.3 2050,612.7 2050.2,611.7 2050.2,625.2 2050.2,611.7 2050.6,615.1 2051.2,611.8 2051.8,602.1 2052.4,615.8 2053,615.7 2053.6,616.5 2054.2,614.5 2054.8,605.3 2055.4,616.4 2056,612.4 2056.6,614.5 2057.2,610.5 2057.6,610.9 2057.6,575.7 2057.6,610.9 2057.8,610.2 2058.4,610.1 2059,616.6 2059.6,611.8 2060.2,610.1 2060.8,606.1 2061.4,612.3 2062,610.6 2062.6,611.1 2063.2,614 2063.8,613 2064.4,610.4 2065,611.1 2065,610.2 2065,598 2065,610.2 2065,622 2065,610.2 2065.6,610.6 2066.2,612.8 2066.8,612.7 2067.4,610.6 2068,607 2068.6,613.1 2069.2,613.2 2069.8,606.1 2070.4,611.3 2071,608.4 2071.6,601.9 2072.2,609.6 2072.8,613.1 2073.4,607 2074,607.1 2074.6,613.2 2075.2,605.6 2075.8,606.1 2076.4,608.3 2077,611.6 2077.6,611.6 2078.2,607.4 2078.3,609.2 2078.3,628.4 2078.3,609.2 2078.8,608.2 2079.4,609.6 2080,607.8 2080.6,606.1 2081.2,605.2 2081.8,611.7 2082.4,608.3 2083,619.3 2083.1,609 2083.1,593.3 2083.1,609 2083.6,611.3 2084.2,606.3 2084.8,609 2085.4,610.2 2085.7,608.8 2085.7,641.2 2085.7,608.8 2086,610.3 2086.6,610.5 2087.2,610.5 2087.8,608.3 2088.4,616.7 2089,635.1 2089.6,603.6 2090,608.6 2090,585 2090,608.6 2090,640 2090,608.6 2090.2,604.3 2090.8,617.3 2091.4,623.7 2092,618.6 2092.6,623.3 2093,608.5 2093,575 2093,608.5 2093,650 2093,608.5 2093.2,608.2 2093.8,606 2094.4,616.5 2095,616.7 2095,608.4 2095,730.7 2095,608.4 2095,560 2095,608.4 2095.6,628.6 2096.2,627.2 2096.8,586.8 2097,608.3 2097,580 2097,608.3 2097,660 2097,608.3 2097.4,617.9 2098,600.5 2098.5,608.2 2098.5,529.4 2098.5,608.2 2098.5,650 2098.5,608.2 2098.6,583.3 2099.2,613.1 2099.8,606.4 2100,608.2 2100,570 2100,608.2 2100,645 2100,608.2 2100.4,604.2 2101,593 2101.6,596.2 2102.2,605.7 2102.3,608.1 2102.3,786.6 2102.3,608.1 2102.3,687.5 2102.3,608.1 2102.3,673.2 2102.3,608.1 2102.8,590.4 2103.4,606.9 2103.9,608 2103.9,460.7 2103.9,608 2103.9,640 2103.9,608 2104,609.5 2104.6,606.3 2104.9,607.9 2104.9,471.9 2104.9,607.9 2104.9,655 2104.9,607.9 2105.2,611.7 2105.8,607.2 2106,607.9 2106,575 2106,607.9 2106,650 2106,607.9 2106.4,594.1 2107,595.6 2107.6,609.5 2108.2,619.4 2108.7,607.8 2108.7,662 2108.7,607.8 2108.7,560 2108.7,607.8 2108.8,609.7 2109.4,601.8 2110,609.8 2110.3,607.7 2110.3,420.8 2110.3,607.7 2110.3,505.4 2110.3,607.7 2110.3,640 2110.3,607.7 2110.6,586.1 2111.2,595.8 2111.8,603.2 2112.4,606.9 2113,603.7 2113,607.5 2113,580 2113,607.5 2113,655 2113,607.5 2113.6,604.3 2114.2,593.3 2114.8,600.6 2115,607.4 2115,684.3 2115,607.4 2115,570 2115,607.4 2115.4,610.4 2116,585.4 2116.6,593 2117.2,603.2 2117.8,625 2118,607.3 2118,585 2118,607.3 2118,650 2118,607.3 2118.4,615.4 2119,626 2119.6,623.3 2120.2,601.8 2120.8,606.3 2121.4,593.1 2122,621.1 2122.4,607.1 2122.4,671.6 2122.4,607.1 2122.4,655.6 2122.4,607.1 2122.4,642.8 2122.4,607.1 2122.6,615.8 2123.2,614.1 2123.7,607 2123.7,551.8 2123.7,607 2123.7,572.5 2123.7,607 2123.8,614.9 2124.4,612.5 2125,609.4 2125.6,608.1 2126.2,612.2 2126.8,603.4 2127,606.8 2127,595 2127,606.8 2127,628 2127,606.8 2127.4,602.2 2128,606.8 2128.6,611.9 2129.2,607.8 2129.8,605.8 2130.4,610.3 2131,607.1 2131.6,598.3 2132.2,602.2 2132.8,597.4 2133,606.5 2133,590 2133,606.5 2133,625 2133,606.5 2133.4,605.6 2134,604.5 2134.6,608.4 2135.2,615.7 2135.8,603.8 2136.4,606.4 2137,604.7 2137.6,594 2138.2,603 2138.8,603.1 2139.4,607.4 2140,602.5 2140.6,600.5 2141.2,608.7 2141.8,605.8 2142.2,606.1 2142.2,583.7 2142.2,606.1 2142.4,602.2 2143,602.8 2143.6,604.7 2144.2,609.6 2144.8,612.2 2145.4,600.2 2146,611 2146,605.9 2146,592 2146,605.9 2146,622 2146,605.9 2146.6,606.1 2147.2,607.5 2147.8,610.1 2148.4,601.6 2149,609.6 2149.6,600 2150.2,603.7 2150.8,602 2151.4,613.1 2152,612.8 2152.6,609 2153.2,607.9 2153.4,605.6 2153.4,574 2153.4,605.6 2153.8,603.3 2154.4,613.2 2155,611.6 2155.6,609.4 2156.2,605 2156.8,603.9 2157.4,605.1 2158,611.2 2158.6,601.2 2159.2,605.9 2159.8,612.5 2160.4,609.2 2160.8,605.2 2160.8,641.2 2160.8,605.2 2161,612.9 2161.4,605.2 2161.4,582 2161.4,605.2 2161.6,607.1 2162.2,607.1 2162.8,611.3 2163.4,608 2164,606.7 2164.6,602.9 2165.2,598.6 2165.8,611.6 2166.4,603.2 2167,601.8 2167.6,608.8 2168.2,601.1 2168.8,599 2169.4,602.4 2170,604.6 2170,604.7 2170,592 2170,604.7 2170,620 2170,604.7 2170.6,606 2171.2,607 2171.8,609 2172.4,604.2 2173,606.3 2173.6,604.2 2174.2,601.8 2174.8,606.4 2175.4,606.1 2176,612.6 2176.6,607.1 2177.2,601.4 2177.8,607 2178,604.2 2178,588 2178,604.2 2178,624 2178,604.2 2178.4,603.3 2179,611.2 2179.6,596.9 2180.2,601.4 2180.6,604 2180.6,590 2180.6,604 2180.8,601.3 2181.4,604.7 2182,603.6 2182.6,597.2 2183.2,595.9 2183.8,604.8 2184.4,610.3 2185,610.2 2185.6,602.1 2186.2,605.8 2186.8,600 2187.4,597.4 2188,609 2188,603.4 2188,590 2188,603.4 2188,625 2188,603.4 2188.6,606.6 2189.2,602.1 2189.8,601.9 2190.4,607.5 2191,604.8 2191.6,601.9 2192,603.1 2192,585 2192,603.1 2192,622 2192,603.1 2192.2,604.6 2192.8,603.3 2193.4,601.5 2194,600.1 2194.6,607.2 2195.2,601.1 2195.6,602.8 2195.6,538 2195.6,602.8 2195.6,580.5 2195.6,602.8 2195.8,598 2196.4,610.9 2197,608.4 2197.6,605.2 2198.2,602.6 2198.8,603.7 2199.4,596.5 2199.7,602.7" fill="none" stroke="#000080" stroke-width="2.6" stroke-linejoin="round" marker-start="url(#d)" marker-mid="url(#d)" marker-end="url(#d)"/>
<path d="M2088,605 L2093,585 L2098,562 L2104,555 L2110,558 L2116,573 L2121,595 L2123,612 L2119,638 L2113,652 L2104,655 L2096,648 L2091,630 Z" fill="#000080"/>
<g stroke="#2a2a2a" stroke-width="2.2" stroke-dasharray="2.6 2.6" fill="none">
<line x1="318.7" y1="33.6" x2="317.4" y2="1011.5"/>
<line x1="488.1" y1="33.6" x2="484.0" y2="1011.5"/>
<line x1="796.7" y1="33.6" x2="796.5" y2="1011.5"/>
<line x1="969.9" y1="33.6" x2="969.3" y2="999.5"/>
<line x1="1042.6" y1="33.6" x2="1041.2" y2="1011.5"/>
<line x1="1133.0" y1="33.6" x2="1133.1" y2="1011.5"/>
<line x1="1266.2" y1="33.6" x2="1261.6" y2="1011.5"/>
<line x1="1423.8" y1="33.6" x2="1421.3" y2="1011.5"/>
<line x1="1667.7" y1="33.6" x2="1666.5" y2="1011.5"/>
<line x1="1799.5" y1="33.6" x2="1797.2" y2="1011.5"/>
</g>
<text font-size="63.5" text-anchor="end" transform="translate(226.0,1034.3) scale(1,1.022)">0</text>
<text font-size="63.5" text-anchor="end" transform="translate(226.0,925.2) scale(1,1.022)">100</text>
<text font-size="63.5" text-anchor="end" transform="translate(226.0,816.2) scale(1,1.022)">200</text>
<text font-size="63.5" text-anchor="end" transform="translate(226.0,707.1) scale(1,1.022)">300</text>
<text font-size="63.5" text-anchor="end" transform="translate(226.0,598.1) scale(1,1.022)">400</text>
<text font-size="63.5" text-anchor="end" transform="translate(226.0,489.0) scale(1,1.022)">500</text>
<text font-size="63.5" text-anchor="end" transform="translate(226.0,380.0) scale(1,1.022)">600</text>
<text font-size="63.5" text-anchor="end" transform="translate(226.0,270.9) scale(1,1.022)">700</text>
<text font-size="63.5" text-anchor="end" transform="translate(226.0,161.9) scale(1,1.022)">800</text>
<text font-size="63.5" text-anchor="end" transform="translate(226.0,52.8) scale(1,1.022)">900</text>
<text font-size="63.5" text-anchor="middle" transform="translate(280.5,1110.6) scale(1,1.022)">00:00.0</text>
<text font-size="63.5" text-anchor="middle" transform="translate(572.9,1110.6) scale(1,1.022)">02:52.8</text>
<text font-size="63.5" text-anchor="middle" transform="translate(865.4,1110.6) scale(1,1.022)">05:45.6</text>
<text font-size="63.5" text-anchor="middle" transform="translate(1157.8,1110.6) scale(1,1.022)">08:38.4</text>
<text font-size="63.5" text-anchor="middle" transform="translate(1450.2,1110.6) scale(1,1.022)">11:31.2</text>
<text font-size="63.5" text-anchor="middle" transform="translate(1742.6,1110.6) scale(1,1.022)">14:24.0</text>
<text font-size="63.5" text-anchor="middle" transform="translate(2035.1,1110.6) scale(1,1.022)">17:16.8</text>
<text font-size="63.5" text-anchor="middle" transform="translate(2327.5,1110.6) scale(1,1.022)">20:09.6</text>
<text font-size="63.5" text-anchor="middle" transform="translate(1371.0,1231.0) scale(1,1.030)">TIME (mm:ss)</text>
<text font-size="63.5" text-anchor="middle" transform="translate(64.0,502.0) rotate(-90) scale(1,1.030)">R (M&#937;)</text>
<text font-size="62.8" text-anchor="end" transform="translate(427.4,68.2) rotate(-90) scale(1,1.030)">300 cGy/min</text>
<text font-size="62.8" text-anchor="end" transform="translate(659.5,66.2) rotate(-90) scale(1,1.030)">0 cGy/min</text>
<text font-size="62.8" text-anchor="end" transform="translate(909.5,64.8) rotate(-90) scale(1,1.030)">300 cGy/min</text>
<text font-size="63.4" text-anchor="end" transform="translate(1026.9,61.9) rotate(-90) scale(1,1.030)">250 cGy/min</text>
<text font-size="62.8" text-anchor="end" transform="translate(1107.7,65.1) rotate(-90) scale(1,1.030)">200 cGy/min</text>
<text font-size="62.8" text-anchor="end" transform="translate(1230.5,64.7) rotate(-90) scale(1,1.030)">150 cGy/min</text>
<text font-size="62.8" text-anchor="end" transform="translate(1365.0,61.5) rotate(-90) scale(1,1.030)">100 cGy/min</text>
<text font-size="62.8" text-anchor="end" transform="translate(1572.0,64.7) rotate(-90) scale(1,1.030)">50 cGy/min</text>
<text font-size="62.8" text-anchor="end" transform="translate(1750.7,64.9) rotate(-90) scale(1,1.030)">300 cGy/min</text>
<text font-size="62.8" text-anchor="end" transform="translate(2076.6,66.7) rotate(-90) scale(1,1.030)">0 cGy/min</text>
<text font-size="63.4" x="1934.8 1975.7 2012.4 2043.5 2064.5 2100.4 2139.6 2196.5 2232.5" y="912">NSL-19M51</text>
</svg></body></html>
